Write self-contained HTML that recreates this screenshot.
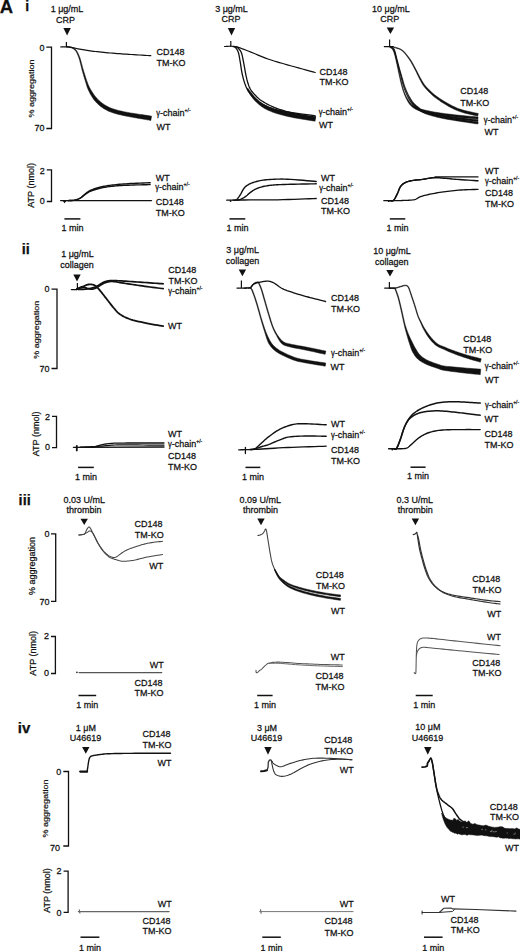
<!DOCTYPE html>
<html><head><meta charset="utf-8"><style>
html,body{margin:0;padding:0;background:#fff;width:520px;height:951px;overflow:hidden}
svg{display:block;font-family:"Liberation Sans", sans-serif;font-size:9px}
text{stroke:#111;stroke-width:0.25px;paint-order:stroke}
</style></head><body>
<svg width="520" height="951" viewBox="0 0 520 951">
<text transform="translate(-0.2,12.9) scale(1,1)" font-weight="bold" font-size="18.5" fill="#111">A</text>
<text transform="translate(25.2,11.2) scale(1,1)" font-weight="bold" font-size="14" fill="#111">i</text>
<text transform="translate(21.7,254.2) scale(1,1)" font-weight="bold" font-size="14.5" fill="#111">ii</text>
<text transform="translate(18.6,504.6) scale(1,1)" font-weight="bold" font-size="14.5" fill="#111">iii</text>
<text transform="translate(17.8,732.6) scale(1,1)" font-weight="bold" font-size="15" fill="#111">iv</text>
<text transform="translate(67,12) scale(1,1.1)" text-anchor="middle" fill="#111">1 μg/mL</text>
<text transform="translate(65.5,22.6) scale(1,1.1)" text-anchor="middle" fill="#111">CRP</text>
<path d="M63.4,28 L70.8,28 L67.1,35.5Z" fill="#111"/>
<path d="M46.3,47.2 L51.5,47.2 L51.5,128.5 L46.3,128.5" fill="none" stroke="#111" stroke-width="1.3"/>
<text transform="translate(44.6,50.8) scale(1,1.1)" text-anchor="end" fill="#111">0</text>
<text transform="translate(44.6,131.2) scale(1,1.1)" text-anchor="end" fill="#111">70</text>
<text transform="translate(34,88.5) rotate(-90) scale(1,0.8)" text-anchor="middle" fill="#111" font-size="9">% aggregation</text>
<line x1="66.4" y1="42" x2="66.4" y2="47" stroke="#111" stroke-width="1.2"/>
<path d="M60.8,46.9 L61.25,46.9 L61.85,46.89 L62.56,46.88 L63.36,46.87 L64.19,46.86 L65.01,46.86 L65.8,46.88 L66.5,46.9 L67.09,46.93 L67.59,46.95 L68.04,46.97 L68.49,47.01 L68.98,47.06 L69.57,47.14 L70.29,47.25 L71.2,47.4 L72.3,47.6 L73.57,47.86 L74.96,48.15 L76.45,48.47 L78,48.8 L79.58,49.12 L81.16,49.42 L82.7,49.7 L84.2,49.95 L85.68,50.19 L87.17,50.42 L88.69,50.64 L90.25,50.85 L91.87,51.07 L93.58,51.28 L95.4,51.5 L97.33,51.72 L99.37,51.94 L101.5,52.16 L103.69,52.38 L105.92,52.6 L108.18,52.81 L110.45,53.01 L112.7,53.2 L114.95,53.38 L117.21,53.56 L119.5,53.72 L121.81,53.88 L124.13,54.04 L126.47,54.19 L128.83,54.35 L131.2,54.5 L133.73,54.66 L136.48,54.84 L139.33,55.01 L142.16,55.18 L144.84,55.34 L147.25,55.49 L149.28,55.61 L150.8,55.7" fill="none" stroke="#111" stroke-width="1.2" stroke-linejoin="round" stroke-linecap="round"/>
<path d="M66.48,47.3 L66.85,47.32 L67.34,47.33 L67.91,47.34 L68.54,47.36 L69.2,47.41 L69.86,47.48 L70.49,47.6 L71.07,47.78 L71.63,48 L72.22,48.26 L72.79,48.54 L73.36,48.86 L73.92,49.23 L74.45,49.65 L74.97,50.13 L75.45,50.68 L75.91,51.32 L76.36,52.06 L76.79,52.86 L77.21,53.73 L77.62,54.65 L78,55.58 L78.38,56.53 L78.73,57.47 L79.07,58.44 L79.39,59.47 L79.69,60.54 L79.98,61.63 L80.25,62.7 L80.51,63.73 L80.75,64.68 L80.97,65.54 L81.15,66.23 L81.27,66.75 L81.36,67.17 L81.45,67.57 L81.54,68 L81.68,68.54 L81.86,69.24 L82.12,70.17 L82.46,71.38 L82.87,72.82 L83.34,74.44 L83.84,76.15 L84.35,77.89 L84.86,79.58 L85.35,81.16 L85.79,82.54 L86.15,83.74 L86.47,84.81 L86.77,85.8 L87.06,86.73 L87.38,87.64 L87.72,88.56 L88.12,89.52 L88.58,90.53 L89.11,91.62 L89.69,92.75 L90.31,93.9 L90.96,95.07 L91.65,96.22 L92.35,97.35 L93.06,98.44 L93.78,99.46 L94.52,100.4 L95.27,101.3 L96.03,102.15 L96.81,102.97 L97.6,103.76 L98.42,104.52 L99.26,105.26 L100.13,105.98 L101.03,106.68 L101.96,107.35 L102.91,108 L103.88,108.63 L104.88,109.23 L105.9,109.8 L106.95,110.35 L108.03,110.88 L109.15,111.38 L110.28,111.84 L111.44,112.27 L112.62,112.68 L113.81,113.06 L115.02,113.43 L116.25,113.79 L117.51,114.14 L118.81,114.48 L120.16,114.81 L121.53,115.12 L122.91,115.42 L124.3,115.7 L125.7,115.98 L127.08,116.25 L128.44,116.52 L129.8,116.78 L131.15,117.03 L132.49,117.27 L133.83,117.5 L135.17,117.73 L136.52,117.95 L137.89,118.19 L139.27,118.42 L140.76,118.69 L142.38,118.97 L144.06,119.27 L145.73,119.56 L147.32,119.84 L148.75,120.09 L149.95,120.31 L150.84,120.47 L151.56,116.13 L150.65,116 L149.45,115.82 L148.01,115.61 L146.42,115.37 L144.74,115.11 L143.05,114.85 L141.43,114.6 L139.93,114.38 L138.54,114.16 L137.16,113.95 L135.81,113.75 L134.47,113.55 L133.14,113.35 L131.82,113.14 L130.49,112.92 L129.16,112.68 L127.8,112.43 L126.43,112.18 L125.06,111.91 L123.69,111.65 L122.34,111.37 L121.02,111.08 L119.73,110.78 L118.49,110.46 L117.27,110.14 L116.08,109.8 L114.92,109.46 L113.78,109.11 L112.68,108.75 L111.62,108.36 L110.58,107.95 L109.57,107.52 L108.58,107.06 L107.61,106.58 L106.67,106.07 L105.75,105.55 L104.85,105 L103.97,104.43 L103.11,103.83 L102.27,103.22 L101.44,102.59 L100.65,101.95 L99.87,101.29 L99.12,100.61 L98.38,99.9 L97.65,99.16 L96.93,98.37 L96.22,97.54 L95.48,96.66 L94.73,95.7 L93.98,94.68 L93.25,93.63 L92.54,92.56 L91.85,91.5 L91.21,90.46 L90.62,89.47 L90.09,88.55 L89.64,87.69 L89.22,86.87 L88.84,86.04 L88.46,85.18 L88.07,84.25 L87.66,83.22 L87.21,82.06 L86.74,80.7 L86.22,79.15 L85.67,77.48 L85.13,75.76 L84.59,74.06 L84.09,72.46 L83.65,71.02 L83.28,69.83 L83,68.92 L82.81,68.24 L82.67,67.72 L82.57,67.31 L82.47,66.91 L82.36,66.48 L82.22,65.95 L82.03,65.26 L81.8,64.41 L81.55,63.46 L81.28,62.43 L80.99,61.36 L80.69,60.26 L80.37,59.17 L80.03,58.12 L79.67,57.13 L79.3,56.17 L78.91,55.21 L78.5,54.26 L78.07,53.33 L77.63,52.43 L77.16,51.59 L76.67,50.81 L76.15,50.12 L75.6,49.51 L75.02,48.98 L74.42,48.53 L73.8,48.14 L73.18,47.8 L72.56,47.51 L71.94,47.25 L71.33,47.02 L70.68,46.83 L69.98,46.69 L69.27,46.61 L68.58,46.56 L67.93,46.54 L67.35,46.53 L66.88,46.52 L66.52,46.5Z" fill="#111" stroke="#111" stroke-width="0.5" stroke-linejoin="round"/>
<text transform="translate(156.6,54.6) scale(1,1.1)" fill="#111">CD148</text>
<text transform="translate(156.6,65.7) scale(1,1.1)" fill="#111">TM-KO</text>
<text transform="translate(156.3,115.7) scale(1,1.1)" fill="#111"><tspan font-size="7.6">γ</tspan>-chain<tspan font-size="5" dy="-3.6">+/-</tspan></text>
<text transform="translate(156.4,129.6) scale(1,1.1)" fill="#111">WT</text>
<path d="M46.8,169.8 L51.5,169.8 L51.5,201.5 L46.8,201.5" fill="none" stroke="#111" stroke-width="1.3"/>
<text transform="translate(44.8,173.5) scale(1,1.1)" text-anchor="end" fill="#111">2</text>
<text transform="translate(44.8,203.5) scale(1,1.1)" text-anchor="end" fill="#111">0</text>
<text transform="translate(34.3,185.4) rotate(-90) scale(1,1.0)" text-anchor="middle" fill="#111" font-size="9">ATP (nmol)</text>
<path d="M60.6,200.6 L151.5,200.6" fill="none" stroke="#111" stroke-width="1.3" stroke-linejoin="round" stroke-linecap="round"/>
<path d="M62.8,200.9 L66.4,200.9 L64.6,203.2Z" fill="#111"/>
<path d="M68,200.6 L68.48,200.58 L69.12,200.57 L69.89,200.55 L70.74,200.53 L71.63,200.49 L72.53,200.43 L73.4,200.33 L74.2,200.2 L74.95,200.03 L75.7,199.84 L76.45,199.62 L77.19,199.37 L77.92,199.09 L78.63,198.79 L79.33,198.46 L80,198.1 L80.65,197.7 L81.27,197.24 L81.87,196.75 L82.46,196.23 L83.04,195.7 L83.62,195.18 L84.21,194.68 L84.8,194.2 L85.39,193.74 L85.98,193.29 L86.56,192.84 L87.14,192.4 L87.73,191.97 L88.33,191.56 L88.95,191.17 L89.6,190.8 L90.26,190.46 L90.94,190.14 L91.62,189.84 L92.33,189.56 L93.05,189.29 L93.8,189.03 L94.58,188.77 L95.4,188.5 L96.25,188.23 L97.12,187.97 L98.03,187.71 L98.96,187.45 L99.92,187.2 L100.91,186.96 L101.94,186.72 L103,186.5 L104.07,186.29 L105.15,186.09 L106.24,185.89 L107.37,185.71 L108.56,185.53 L109.83,185.35 L111.21,185.17 L112.7,185 L114.3,184.83 L115.97,184.65 L117.72,184.48 L119.57,184.32 L121.51,184.16 L123.56,184 L125.72,183.85 L128,183.7 L130.6,183.55 L133.59,183.41 L136.8,183.26 L140.06,183.12 L143.2,182.99 L146.05,182.87 L148.44,182.78 L150.2,182.7" fill="none" stroke="#111" stroke-width="1.4" stroke-linejoin="round" stroke-linecap="round"/>
<path d="M68,200.6 L68.48,200.58 L69.12,200.56 L69.89,200.55 L70.74,200.52 L71.63,200.48 L72.53,200.41 L73.4,200.32 L74.2,200.2 L74.95,200.05 L75.7,199.87 L76.45,199.67 L77.19,199.44 L77.92,199.2 L78.63,198.92 L79.33,198.62 L80,198.3 L80.65,197.94 L81.27,197.53 L81.87,197.09 L82.46,196.63 L83.04,196.16 L83.62,195.69 L84.21,195.23 L84.8,194.8 L85.39,194.38 L85.98,193.95 L86.56,193.53 L87.14,193.11 L87.73,192.71 L88.33,192.32 L88.95,191.95 L89.6,191.6 L90.26,191.28 L90.94,190.99 L91.62,190.72 L92.33,190.47 L93.05,190.22 L93.8,189.99 L94.58,189.75 L95.4,189.5 L96.25,189.25 L97.12,189 L98.03,188.75 L98.96,188.51 L99.92,188.27 L100.91,188.04 L101.94,187.81 L103,187.6 L104.07,187.4 L105.15,187.21 L106.24,187.02 L107.37,186.84 L108.56,186.67 L109.83,186.51 L111.21,186.35 L112.7,186.2 L114.3,186.05 L115.97,185.91 L117.72,185.78 L119.57,185.65 L121.51,185.53 L123.56,185.41 L125.72,185.3 L128,185.2 L130.6,185.1 L133.59,185.01 L136.8,184.92 L140.06,184.84 L143.2,184.76 L146.05,184.7 L148.44,184.64 L150.2,184.6" fill="none" stroke="#111" stroke-width="1.4" stroke-linejoin="round" stroke-linecap="round"/>
<text transform="translate(155.8,180.9) scale(1,1.1)" fill="#111">WT</text>
<text transform="translate(155.3,189.8) scale(1,1.1)" fill="#111"><tspan font-size="7.6">γ</tspan>-chain<tspan font-size="5" dy="-3.6">+/-</tspan></text>
<text transform="translate(155.7,204.9) scale(1,1.1)" fill="#111">CD148</text>
<text transform="translate(155.7,215.5) scale(1,1.1)" fill="#111">TM-KO</text>
<line x1="64.4" y1="218.9" x2="80.4" y2="218.9" stroke="#111" stroke-width="1.5"/>
<text transform="translate(72.4,230.8) scale(1,1.1)" text-anchor="middle" fill="#111">1 min</text>
<text transform="translate(231.5,12) scale(1,1.1)" text-anchor="middle" fill="#111">3 μg/mL</text>
<text transform="translate(231,22.3) scale(1,1.1)" text-anchor="middle" fill="#111">CRP</text>
<path d="M227.8,28 L235.2,28 L231.5,35.5Z" fill="#111"/>
<line x1="230.8" y1="41" x2="230.8" y2="46.8" stroke="#111" stroke-width="1.2"/>
<path d="M224.5,46.5 L225.32,46.48 L226.4,46.41 L227.68,46.33 L229.11,46.26 L230.65,46.22 L232.24,46.25 L233.84,46.37 L235.4,46.6 L236.92,46.95 L238.44,47.38 L239.99,47.89 L241.58,48.47 L243.24,49.12 L244.98,49.81 L246.83,50.54 L248.8,51.3 L250.92,52.13 L253.19,53.06 L255.57,54.05 L258.03,55.08 L260.54,56.12 L263.06,57.14 L265.56,58.11 L268,59 L270.35,59.8 L272.62,60.54 L274.85,61.23 L277.11,61.9 L279.43,62.57 L281.87,63.26 L284.48,64 L287.3,64.8 L290.57,65.72 L294.32,66.77 L298.36,67.89 L302.46,69.01 L306.4,70.09 L309.99,71.07 L312.99,71.89 L315.2,72.5" fill="none" stroke="#111" stroke-width="1.2" stroke-linejoin="round" stroke-linecap="round"/>
<path d="M233,46.6 L233.18,46.64 L233.42,46.67 L233.7,46.7 L234.02,46.75 L234.36,46.84 L234.71,46.98 L235.06,47.19 L235.4,47.5 L235.75,47.88 L236.11,48.31 L236.49,48.8 L236.88,49.36 L237.26,49.98 L237.63,50.67 L237.98,51.44 L238.3,52.3 L238.59,53.26 L238.85,54.32 L239.09,55.46 L239.31,56.67 L239.53,57.94 L239.75,59.25 L239.97,60.57 L240.2,61.9 L240.43,63.26 L240.65,64.69 L240.87,66.15 L241.09,67.64 L241.31,69.14 L241.55,70.63 L241.81,72.09 L242.1,73.5 L242.41,74.88 L242.73,76.27 L243.07,77.64 L243.43,78.99 L243.8,80.32 L244.19,81.6 L244.59,82.83 L245,84 L245.42,85.1 L245.84,86.14 L246.27,87.13 L246.72,88.08 L247.19,89 L247.69,89.9 L248.22,90.8 L248.8,91.7 L249.42,92.6 L250.06,93.49 L250.75,94.36 L251.46,95.22 L252.2,96.07 L252.97,96.9 L253.77,97.71 L254.6,98.5 L255.45,99.27 L256.3,100.02 L257.18,100.76 L258.09,101.48 L259.05,102.18 L260.06,102.86 L261.14,103.54 L262.3,104.2 L263.54,104.86 L264.86,105.51 L266.25,106.15 L267.69,106.78 L269.17,107.38 L270.7,107.95 L272.24,108.5 L273.8,109 L275.39,109.46 L277.03,109.88 L278.72,110.27 L280.43,110.63 L282.15,110.97 L283.88,111.29 L285.6,111.6 L287.3,111.9 L288.98,112.18 L290.65,112.44 L292.32,112.68 L293.99,112.91 L295.67,113.12 L297.36,113.34 L299.07,113.56 L300.8,113.8 L302.66,114.06 L304.67,114.34 L306.77,114.63 L308.84,114.92 L310.82,115.19 L312.59,115.44 L314.08,115.65 L315.2,115.8" fill="none" stroke="#111" stroke-width="1.3" stroke-linejoin="round" stroke-linecap="round"/>
<path d="M235,46.6 L235.17,46.64 L235.38,46.67 L235.62,46.7 L235.91,46.75 L236.22,46.84 L236.56,46.98 L236.92,47.19 L237.3,47.5 L237.72,47.88 L238.2,48.31 L238.72,48.8 L239.25,49.36 L239.78,49.98 L240.3,50.67 L240.78,51.44 L241.2,52.3 L241.57,53.26 L241.89,54.32 L242.19,55.46 L242.46,56.67 L242.72,57.94 L242.98,59.25 L243.23,60.57 L243.5,61.9 L243.77,63.27 L244.03,64.71 L244.29,66.2 L244.55,67.71 L244.81,69.22 L245.07,70.7 L245.33,72.14 L245.6,73.5 L245.87,74.81 L246.15,76.09 L246.42,77.33 L246.7,78.55 L246.98,79.73 L247.28,80.86 L247.58,81.96 L247.9,83 L248.21,83.98 L248.52,84.89 L248.82,85.75 L249.14,86.57 L249.48,87.38 L249.86,88.17 L250.3,88.97 L250.8,89.8 L251.38,90.66 L252.03,91.53 L252.74,92.42 L253.49,93.29 L254.25,94.15 L255.02,94.98 L255.78,95.77 L256.5,96.5 L257.18,97.17 L257.83,97.78 L258.47,98.35 L259.11,98.89 L259.76,99.41 L260.45,99.93 L261.19,100.45 L262,101 L262.87,101.57 L263.78,102.14 L264.73,102.71 L265.72,103.28 L266.74,103.85 L267.8,104.41 L268.89,104.96 L270,105.5 L271.14,106.03 L272.31,106.55 L273.52,107.06 L274.75,107.56 L276.02,108.06 L277.31,108.55 L278.64,109.03 L280,109.5 L281.41,109.97 L282.88,110.43 L284.4,110.89 L285.94,111.34 L287.49,111.78 L289.02,112.21 L290.53,112.61 L292,113 L293.41,113.36 L294.79,113.7 L296.15,114.01 L297.49,114.31 L298.83,114.61 L300.19,114.9 L301.57,115.19 L303,115.5 L304.55,115.83 L306.25,116.18 L308.02,116.55 L309.79,116.91 L311.47,117.25 L312.98,117.55 L314.25,117.81 L315.2,118" fill="none" stroke="#111" stroke-width="1.3" stroke-linejoin="round" stroke-linecap="round"/>
<path d="M247.05,88.73 L247.11,88.93 L247.16,89.16 L247.24,89.45 L247.36,89.81 L247.53,90.23 L247.77,90.73 L248.09,91.32 L248.51,91.99 L249.02,92.79 L249.63,93.73 L250.33,94.77 L251.09,95.88 L251.91,97.03 L252.76,98.16 L253.63,99.26 L254.5,100.27 L255.39,101.2 L256.31,102.11 L257.25,102.99 L258.22,103.84 L259.2,104.66 L260.18,105.44 L261.17,106.19 L262.15,106.9 L263.14,107.55 L264.12,108.15 L265.1,108.71 L266.08,109.23 L267.07,109.73 L268.07,110.2 L269.09,110.66 L270.15,111.12 L271.23,111.57 L272.32,112 L273.43,112.41 L274.56,112.8 L275.72,113.19 L276.93,113.57 L278.18,113.95 L279.51,114.33 L280.91,114.72 L282.4,115.11 L283.94,115.5 L285.52,115.89 L287.13,116.27 L288.74,116.63 L290.34,116.98 L291.91,117.31 L293.48,117.63 L295.06,117.93 L296.64,118.21 L298.21,118.48 L299.77,118.74 L301.31,118.99 L302.81,119.24 L304.28,119.48 L305.77,119.73 L307.34,119.99 L308.92,120.24 L310.46,120.48 L311.89,120.7 L313.18,120.91 L314.25,121.08 L315.07,121.23 L315.73,116.37 L314.9,116.29 L313.81,116.18 L312.52,116.03 L311.08,115.87 L309.55,115.69 L307.98,115.51 L306.42,115.31 L304.92,115.12 L303.46,114.92 L301.95,114.72 L300.42,114.5 L298.87,114.28 L297.32,114.05 L295.76,113.81 L294.22,113.56 L292.69,113.29 L291.15,113 L289.57,112.69 L287.98,112.37 L286.39,112.04 L284.83,111.7 L283.32,111.35 L281.87,111.01 L280.49,110.67 L279.2,110.33 L277.97,110 L276.8,109.67 L275.68,109.33 L274.6,108.99 L273.54,108.64 L272.5,108.27 L271.45,107.88 L270.42,107.48 L269.42,107.08 L268.46,106.68 L267.52,106.27 L266.6,105.83 L265.69,105.36 L264.77,104.86 L263.85,104.3 L262.89,103.7 L261.92,103.06 L260.95,102.38 L259.98,101.66 L259.02,100.91 L258.09,100.14 L257.17,99.34 L256.3,98.53 L255.42,97.66 L254.53,96.7 L253.64,95.67 L252.77,94.62 L251.94,93.59 L251.17,92.61 L250.48,91.74 L249.89,91.01 L249.43,90.42 L249.07,89.94 L248.79,89.54 L248.57,89.21 L248.39,88.93 L248.24,88.69 L248.09,88.47 L247.95,88.27Z" fill="#111" stroke="#111" stroke-width="0.5" stroke-linejoin="round"/>
<text transform="translate(319.6,74.6) scale(1,1.1)" fill="#111">CD148</text>
<text transform="translate(319.6,85.4) scale(1,1.1)" fill="#111">TM-KO</text>
<text transform="translate(318.7,114.5) scale(1,1.1)" fill="#111"><tspan font-size="7.6">γ</tspan>-chain<tspan font-size="5" dy="-3.6">+/-</tspan></text>
<text transform="translate(319.1,127.5) scale(1,1.1)" fill="#111">WT</text>
<path d="M226.7,200.2 L227.22,200.18 L227.68,200.16 L228.2,200.14 L228.91,200.11 L229.95,200.08 L231.44,200.05 L233.51,200.03 L236.3,200 L239.97,199.98 L244.48,199.98 L249.62,199.97 L255.19,199.97 L260.99,199.96 L266.81,199.93 L272.45,199.88 L277.7,199.8 L282.91,199.68 L288.43,199.52 L294.04,199.34 L299.54,199.14 L304.71,198.94 L309.35,198.76 L313.25,198.61 L316.2,198.5" fill="none" stroke="#111" stroke-width="1.3" stroke-linejoin="round" stroke-linecap="round"/>
<circle cx="230.6" cy="201" r="0.9" fill="#111"/>
<path d="M233,200.1 L233.25,200.11 L233.58,200.15 L233.97,200.21 L234.41,200.25 L234.87,200.26 L235.36,200.2 L235.84,200.05 L236.3,199.8 L236.76,199.43 L237.24,198.96 L237.72,198.41 L238.22,197.8 L238.72,197.14 L239.22,196.44 L239.71,195.72 L240.2,195 L240.67,194.23 L241.13,193.39 L241.59,192.5 L242.04,191.59 L242.51,190.69 L242.98,189.82 L243.48,189.02 L244,188.3 L244.53,187.67 L245.06,187.1 L245.6,186.59 L246.16,186.11 L246.74,185.67 L247.37,185.24 L248.05,184.82 L248.8,184.4 L249.6,183.98 L250.43,183.58 L251.31,183.2 L252.23,182.82 L253.21,182.47 L254.24,182.13 L255.34,181.81 L256.5,181.5 L257.7,181.2 L258.92,180.92 L260.19,180.65 L261.53,180.39 L262.95,180.16 L264.49,179.95 L266.16,179.76 L268,179.6 L269.97,179.46 L272.05,179.33 L274.24,179.22 L276.56,179.14 L279.02,179.09 L281.62,179.07 L284.37,179.11 L287.3,179.2 L290.65,179.37 L294.53,179.64 L298.7,179.97 L302.96,180.32 L307.06,180.69 L310.78,181.02 L313.9,181.3 L316.2,181.5" fill="none" stroke="#111" stroke-width="1.4" stroke-linejoin="round" stroke-linecap="round"/>
<path d="M236,200.1 L236.23,200.09 L236.51,200.11 L236.85,200.12 L237.24,200.13 L237.67,200.12 L238.14,200.06 L238.65,199.96 L239.2,199.8 L239.8,199.57 L240.47,199.3 L241.18,198.99 L241.94,198.63 L242.71,198.24 L243.49,197.82 L244.26,197.37 L245,196.9 L245.73,196.38 L246.45,195.8 L247.18,195.18 L247.91,194.53 L248.63,193.88 L249.36,193.25 L250.08,192.65 L250.8,192.1 L251.5,191.6 L252.19,191.13 L252.86,190.68 L253.53,190.25 L254.22,189.84 L254.94,189.45 L255.69,189.07 L256.5,188.7 L257.35,188.34 L258.24,188 L259.16,187.68 L260.11,187.37 L261.09,187.08 L262.09,186.8 L263.13,186.54 L264.2,186.3 L265.28,186.08 L266.38,185.88 L267.49,185.7 L268.64,185.54 L269.83,185.39 L271.08,185.25 L272.4,185.12 L273.8,185 L275.2,184.89 L276.54,184.8 L277.9,184.72 L279.34,184.66 L280.94,184.59 L282.75,184.53 L284.85,184.47 L287.3,184.4 L290.37,184.32 L294.12,184.24 L298.28,184.15 L302.59,184.06 L306.8,183.98 L310.65,183.91 L313.87,183.85 L316.2,183.8" fill="none" stroke="#111" stroke-width="1.4" stroke-linejoin="round" stroke-linecap="round"/>
<text transform="translate(321,181.3) scale(1,1.1)" fill="#111">WT</text>
<text transform="translate(319.2,190.8) scale(1,1.1)" fill="#111"><tspan font-size="7.6">γ</tspan>-chain<tspan font-size="5" dy="-3.6">+/-</tspan></text>
<text transform="translate(321,203.5) scale(1,1.1)" fill="#111">CD148</text>
<text transform="translate(321,214) scale(1,1.1)" fill="#111">TM-KO</text>
<line x1="229.5" y1="218.9" x2="245.3" y2="218.9" stroke="#111" stroke-width="1.5"/>
<text transform="translate(237.4,230.8) scale(1,1.1)" text-anchor="middle" fill="#111">1 min</text>
<text transform="translate(390.8,12) scale(1,1.1)" text-anchor="middle" fill="#111">10 μg/mL</text>
<text transform="translate(389.8,21.7) scale(1,1.1)" text-anchor="middle" fill="#111">CRP</text>
<path d="M386.7,27.4 L394.1,27.4 L390.4,33.9Z" fill="#111"/>
<line x1="389.6" y1="39.5" x2="389.6" y2="47" stroke="#111" stroke-width="1.2"/>
<path d="M384.3,46.6 L393,46.6" fill="none" stroke="#111" stroke-width="1.2" stroke-linejoin="round" stroke-linecap="round"/>
<path d="M392.61,47 L392.53,46.91 L392.65,46.42 L392.47,46.6 L392.59,47.03 L392.72,47.1 L392.89,47.18 L393.16,47.28 L393.59,47.43 L394.21,47.63 L395,47.85 L395.92,48.11 L396.91,48.39 L397.93,48.71 L398.93,49.05 L399.84,49.42 L400.63,49.81 L401.3,50.22 L401.91,50.66 L402.46,51.11 L402.99,51.6 L403.51,52.13 L404.04,52.71 L404.59,53.36 L405.2,54.06 L405.84,54.83 L406.5,55.64 L407.17,56.51 L407.86,57.43 L408.55,58.4 L409.24,59.41 L409.94,60.45 L410.62,61.54 L411.3,62.69 L412.01,63.94 L412.72,65.25 L413.42,66.6 L414.12,67.95 L414.8,69.27 L415.45,70.54 L416.06,71.73 L416.61,72.83 L417.12,73.89 L417.6,74.9 L418.07,75.88 L418.53,76.85 L418.99,77.8 L419.47,78.74 L419.98,79.69 L420.47,80.62 L420.95,81.52 L421.43,82.4 L421.92,83.29 L422.45,84.17 L423.03,85.08 L423.68,86.01 L424.42,86.98 L425.25,87.98 L426.16,89.03 L427.14,90.1 L428.16,91.19 L429.22,92.26 L430.29,93.31 L431.36,94.33 L432.41,95.28 L433.44,96.17 L434.47,97.01 L435.5,97.82 L436.54,98.6 L437.6,99.36 L438.68,100.11 L439.8,100.87 L440.96,101.64 L442.17,102.43 L443.44,103.25 L444.75,104.06 L446.09,104.87 L447.44,105.67 L448.81,106.45 L450.17,107.19 L451.51,107.88 L452.8,108.53 L454.06,109.14 L455.3,109.72 L456.55,110.27 L457.85,110.8 L459.22,111.32 L460.67,111.84 L462.26,112.35 L464.09,112.89 L466.18,113.44 L468.42,113.98 L470.69,114.51 L472.87,115.01 L474.84,115.45 L476.49,115.83 L477.71,116.12 L478.29,113.48 L477.06,113.23 L475.4,112.89 L473.42,112.48 L471.24,112.02 L468.98,111.54 L466.77,111.03 L464.71,110.53 L462.94,110.05 L461.42,109.58 L460.01,109.11 L458.69,108.63 L457.43,108.14 L456.22,107.63 L455,107.1 L453.77,106.53 L452.49,105.92 L451.17,105.26 L449.84,104.56 L448.49,103.82 L447.15,103.06 L445.82,102.29 L444.52,101.5 L443.26,100.72 L442.04,99.96 L440.88,99.22 L439.77,98.49 L438.69,97.77 L437.65,97.05 L436.63,96.32 L435.61,95.56 L434.61,94.76 L433.59,93.92 L432.54,93.02 L431.47,92.06 L430.4,91.05 L429.34,90.03 L428.31,88.99 L427.32,87.97 L426.41,86.97 L425.58,86.02 L424.85,85.13 L424.2,84.27 L423.62,83.42 L423.08,82.59 L422.57,81.75 L422.06,80.9 L421.56,80.02 L421.02,79.11 L420.5,78.19 L420.01,77.27 L419.53,76.35 L419.06,75.4 L418.57,74.43 L418.06,73.42 L417.53,72.37 L416.94,71.27 L416.32,70.09 L415.66,68.82 L414.97,67.5 L414.26,66.15 L413.54,64.81 L412.81,63.49 L412.09,62.23 L411.38,61.06 L410.68,59.97 L409.97,58.91 L409.25,57.9 L408.54,56.93 L407.84,56 L407.14,55.13 L406.46,54.31 L405.8,53.54 L405.19,52.84 L404.61,52.2 L404.06,51.61 L403.51,51.06 L402.94,50.55 L402.34,50.08 L401.69,49.63 L400.97,49.19 L400.13,48.78 L399.17,48.39 L398.15,48.04 L397.11,47.72 L396.11,47.43 L395.19,47.18 L394.41,46.96 L393.81,46.77 L393.41,46.62 L393.15,46.52 L393.02,46.47 L393.02,46.47 L393.12,46.86 L392.99,47.03 L393.12,46.53 L392.99,46.4Z" fill="#111" stroke="#111" stroke-width="0.5" stroke-linejoin="round"/>
<path d="M389.3,46.98 L389.58,47.18 L389.95,47.42 L390.38,47.69 L390.85,47.99 L391.33,48.35 L391.8,48.74 L392.23,49.19 L392.61,49.69 L392.94,50.26 L393.26,50.89 L393.55,51.57 L393.84,52.31 L394.12,53.11 L394.4,53.97 L394.68,54.9 L394.96,55.89 L395.26,56.98 L395.55,58.17 L395.84,59.45 L396.13,60.77 L396.42,62.13 L396.71,63.48 L396.99,64.8 L397.26,66.07 L397.52,67.3 L397.78,68.51 L398.03,69.72 L398.28,70.91 L398.52,72.1 L398.76,73.27 L399.01,74.43 L399.26,75.57 L399.51,76.71 L399.75,77.83 L400,78.94 L400.24,80.03 L400.49,81.12 L400.74,82.19 L401,83.25 L401.26,84.29 L401.53,85.31 L401.79,86.32 L402.06,87.31 L402.34,88.3 L402.62,89.27 L402.92,90.23 L403.24,91.18 L403.57,92.12 L403.91,93.06 L404.26,94.01 L404.63,94.94 L405.01,95.86 L405.41,96.77 L405.82,97.65 L406.23,98.51 L406.66,99.34 L407.08,100.15 L407.51,100.93 L407.94,101.7 L408.39,102.45 L408.86,103.18 L409.36,103.88 L409.89,104.57 L410.46,105.22 L411.06,105.84 L411.67,106.43 L412.3,106.99 L412.96,107.53 L413.67,108.04 L414.42,108.53 L415.23,109.01 L416.1,109.46 L417,109.87 L417.92,110.25 L418.87,110.6 L419.87,110.93 L420.94,111.24 L422.1,111.56 L423.36,111.88 L424.77,112.22 L426.29,112.57 L427.91,112.92 L429.63,113.27 L431.46,113.63 L433.39,113.99 L435.43,114.34 L437.58,114.7 L439.85,115.04 L442.32,115.38 L445.02,115.73 L447.88,116.08 L450.82,116.43 L453.77,116.77 L456.64,117.08 L459.38,117.38 L461.89,117.64 L464.29,117.89 L466.7,118.11 L469.05,118.32 L471.29,118.51 L473.35,118.68 L475.18,118.82 L476.72,118.95 L477.91,119.05 L478.09,116.95 L476.89,116.85 L475.35,116.73 L473.52,116.58 L471.46,116.42 L469.23,116.23 L466.89,116.02 L464.5,115.8 L462.11,115.56 L459.6,115.29 L456.87,115 L454,114.68 L451.06,114.34 L448.13,114 L445.28,113.65 L442.6,113.3 L440.15,112.96 L437.91,112.62 L435.78,112.27 L433.76,111.92 L431.85,111.57 L430.05,111.21 L428.35,110.86 L426.74,110.52 L425.23,110.18 L423.85,109.87 L422.6,109.57 L421.47,109.29 L420.44,109.01 L419.49,108.72 L418.6,108.42 L417.75,108.1 L416.9,107.74 L416.08,107.37 L415.33,106.98 L414.62,106.57 L413.96,106.15 L413.33,105.7 L412.72,105.22 L412.12,104.71 L411.54,104.18 L410.97,103.61 L410.43,103.03 L409.92,102.4 L409.42,101.75 L408.94,101.07 L408.47,100.36 L408,99.62 L407.54,98.86 L407.09,98.06 L406.64,97.24 L406.21,96.39 L405.79,95.51 L405.38,94.62 L404.98,93.71 L404.6,92.8 L404.23,91.88 L403.9,90.95 L403.59,90.01 L403.29,89.06 L403.01,88.1 L402.74,87.13 L402.47,86.14 L402.21,85.13 L401.94,84.11 L401.68,83.08 L401.42,82.03 L401.17,80.96 L400.92,79.88 L400.68,78.78 L400.43,77.68 L400.19,76.56 L399.94,75.43 L399.69,74.28 L399.45,73.13 L399.21,71.96 L398.96,70.77 L398.71,69.58 L398.46,68.37 L398.21,67.15 L397.94,65.93 L397.67,64.66 L397.39,63.34 L397.11,61.98 L396.82,60.63 L396.52,59.29 L396.23,58.01 L395.93,56.81 L395.64,55.71 L395.35,54.7 L395.06,53.76 L394.78,52.89 L394.5,52.07 L394.2,51.3 L393.89,50.59 L393.56,49.93 L393.19,49.31 L392.77,48.74 L392.28,48.23 L391.77,47.8 L391.25,47.42 L390.76,47.1 L390.32,46.82 L389.96,46.6 L389.7,46.42Z" fill="#111" stroke="#111" stroke-width="0.5" stroke-linejoin="round"/>
<path d="M390.16,46.91 L390.45,47.1 L390.84,47.3 L391.28,47.53 L391.76,47.8 L392.25,48.13 L392.74,48.53 L393.19,49.02 L393.58,49.62 L393.94,50.36 L394.27,51.24 L394.6,52.22 L394.91,53.28 L395.21,54.39 L395.51,55.54 L395.81,56.69 L396.11,57.81 L396.41,58.94 L396.71,60.09 L397,61.26 L397.29,62.46 L397.58,63.66 L397.87,64.86 L398.16,66.07 L398.46,67.26 L398.76,68.45 L399.06,69.66 L399.36,70.87 L399.67,72.09 L399.97,73.29 L400.27,74.47 L400.57,75.63 L400.86,76.76 L401.13,77.85 L401.39,78.91 L401.65,79.94 L401.9,80.96 L402.15,81.97 L402.42,82.98 L402.7,84 L403.01,85.02 L403.34,86.06 L403.67,87.11 L404.02,88.16 L404.38,89.2 L404.75,90.25 L405.14,91.28 L405.55,92.3 L405.97,93.3 L406.39,94.3 L406.83,95.3 L407.28,96.3 L407.76,97.28 L408.24,98.24 L408.74,99.18 L409.25,100.08 L409.77,100.95 L410.3,101.77 L410.84,102.55 L411.38,103.3 L411.94,104.03 L412.52,104.73 L413.12,105.41 L413.75,106.08 L414.41,106.73 L415.05,107.35 L415.67,107.96 L416.31,108.56 L416.99,109.14 L417.75,109.72 L418.6,110.29 L419.59,110.84 L420.72,111.38 L422,111.9 L423.39,112.4 L424.89,112.88 L426.48,113.35 L428.16,113.8 L429.91,114.25 L431.72,114.69 L433.6,115.13 L435.56,115.55 L437.63,115.96 L439.78,116.36 L442,116.75 L444.26,117.14 L446.56,117.52 L448.86,117.88 L451.16,118.24 L453.54,118.59 L456.08,118.95 L458.69,119.3 L461.29,119.64 L463.82,119.96 L466.19,120.26 L468.34,120.52 L470.19,120.74 L471.75,120.92 L473.11,121.06 L474.27,121.17 L475.26,121.25 L476.11,121.32 L476.82,121.36 L477.41,121.41 L477.92,121.45 L478.08,119.55 L477.55,119.51 L476.95,119.47 L476.24,119.42 L475.41,119.36 L474.44,119.28 L473.29,119.17 L471.96,119.03 L470.41,118.86 L468.57,118.63 L466.43,118.37 L464.06,118.08 L461.53,117.76 L458.94,117.42 L456.34,117.07 L453.82,116.71 L451.44,116.36 L449.16,116.01 L446.86,115.64 L444.58,115.27 L442.32,114.88 L440.12,114.49 L437.99,114.09 L435.94,113.69 L434,113.27 L432.14,112.87 L430.34,112.45 L428.61,112.04 L426.96,111.61 L425.4,111.18 L423.94,110.73 L422.6,110.28 L421.38,109.82 L420.32,109.36 L419.4,108.9 L418.61,108.43 L417.9,107.95 L417.25,107.45 L416.61,106.92 L415.97,106.36 L415.29,105.77 L414.62,105.18 L413.98,104.58 L413.37,103.96 L412.78,103.32 L412.2,102.65 L411.64,101.95 L411.08,101.22 L410.53,100.45 L409.98,99.64 L409.43,98.78 L408.9,97.88 L408.38,96.96 L407.87,96.01 L407.37,95.04 L406.89,94.07 L406.43,93.1 L406.01,92.11 L405.61,91.1 L405.22,90.07 L404.85,89.04 L404.49,88 L404.15,86.95 L403.81,85.91 L403.49,84.88 L403.18,83.86 L402.9,82.85 L402.64,81.85 L402.38,80.84 L402.13,79.83 L401.88,78.79 L401.62,77.73 L401.34,76.64 L401.05,75.51 L400.76,74.35 L400.46,73.17 L400.15,71.96 L399.85,70.75 L399.54,69.54 L399.24,68.33 L398.94,67.14 L398.65,65.95 L398.36,64.75 L398.07,63.54 L397.78,62.34 L397.49,61.14 L397.19,59.97 L396.89,58.81 L396.59,57.69 L396.29,56.56 L395.99,55.41 L395.69,54.26 L395.39,53.14 L395.07,52.07 L394.74,51.07 L394.4,50.16 L394.02,49.38 L393.58,48.72 L393.08,48.17 L392.55,47.73 L392.02,47.37 L391.52,47.09 L391.07,46.85 L390.7,46.66 L390.44,46.49Z" fill="#111" stroke="#111" stroke-width="0.5" stroke-linejoin="round"/>
<path d="M390.32,47 L390.63,47.18 L391.03,47.35 L391.48,47.54 L391.96,47.77 L392.45,48.07 L392.93,48.46 L393.38,48.98 L393.79,49.65 L394.15,50.55 L394.51,51.66 L394.85,52.94 L395.18,54.31 L395.51,55.74 L395.83,57.16 L396.14,58.53 L396.46,59.79 L396.77,60.95 L397.07,62.05 L397.37,63.13 L397.66,64.19 L397.95,65.24 L398.24,66.3 L398.55,67.38 L398.86,68.5 L399.2,69.66 L399.55,70.86 L399.91,72.08 L400.27,73.31 L400.63,74.53 L400.99,75.73 L401.34,76.89 L401.66,78 L401.97,79.05 L402.24,80.04 L402.5,81 L402.76,81.94 L403.03,82.88 L403.31,83.83 L403.62,84.8 L403.97,85.82 L404.35,86.87 L404.76,87.95 L405.18,89.06 L405.63,90.18 L406.09,91.29 L406.57,92.4 L407.07,93.49 L407.59,94.56 L408.1,95.61 L408.64,96.67 L409.19,97.72 L409.76,98.76 L410.35,99.78 L410.96,100.77 L411.57,101.71 L412.2,102.6 L412.83,103.45 L413.47,104.23 L414.11,104.98 L414.78,105.69 L415.45,106.38 L416.15,107.05 L416.87,107.71 L417.61,108.37 L418.31,109.01 L418.94,109.64 L419.59,110.27 L420.3,110.92 L421.11,111.57 L422.08,112.21 L423.25,112.85 L424.65,113.48 L426.31,114.1 L428.18,114.72 L430.23,115.34 L432.43,115.95 L434.72,116.55 L437.07,117.14 L439.43,117.7 L441.78,118.23 L444.18,118.72 L446.7,119.19 L449.28,119.64 L451.89,120.07 L454.5,120.49 L457.05,120.89 L459.51,121.27 L461.84,121.64 L464.14,122 L466.5,122.36 L468.84,122.72 L471.1,123.05 L473.2,123.36 L475.07,123.63 L476.64,123.86 L477.85,124.04 L478.15,121.96 L476.95,121.78 L475.37,121.55 L473.5,121.28 L471.4,120.97 L469.15,120.64 L466.81,120.29 L464.46,119.93 L462.16,119.56 L459.83,119.19 L457.37,118.81 L454.82,118.41 L452.23,118 L449.63,117.57 L447.07,117.12 L444.59,116.66 L442.22,116.17 L439.89,115.67 L437.54,115.14 L435.21,114.59 L432.94,114.02 L430.77,113.44 L428.76,112.86 L426.93,112.28 L425.35,111.72 L424.04,111.18 L422.98,110.65 L422.11,110.13 L421.36,109.59 L420.69,109.05 L420.04,108.47 L419.35,107.86 L418.59,107.23 L417.81,106.61 L417.06,106.01 L416.34,105.41 L415.65,104.8 L414.97,104.16 L414.31,103.49 L413.65,102.77 L413,102 L412.36,101.16 L411.73,100.26 L411.11,99.32 L410.5,98.34 L409.9,97.33 L409.32,96.3 L408.76,95.27 L408.21,94.24 L407.71,93.2 L407.21,92.12 L406.73,91.02 L406.27,89.91 L405.83,88.8 L405.41,87.71 L405.01,86.63 L404.63,85.58 L404.29,84.58 L403.98,83.62 L403.7,82.69 L403.44,81.76 L403.18,80.82 L402.92,79.86 L402.64,78.85 L402.34,77.8 L402.01,76.69 L401.66,75.53 L401.3,74.33 L400.94,73.11 L400.58,71.88 L400.22,70.66 L399.87,69.46 L399.54,68.3 L399.22,67.19 L398.92,66.11 L398.62,65.05 L398.33,64 L398.04,62.95 L397.75,61.87 L397.45,60.76 L397.14,59.61 L396.82,58.36 L396.51,57 L396.19,55.58 L395.87,54.15 L395.53,52.76 L395.18,51.47 L394.81,50.31 L394.41,49.35 L393.95,48.57 L393.42,47.96 L392.86,47.5 L392.3,47.16 L391.77,46.9 L391.3,46.71 L390.94,46.55 L390.68,46.4Z" fill="#111" stroke="#111" stroke-width="0.5" stroke-linejoin="round"/>
<text transform="translate(460.3,94.4) scale(1,1.1)" fill="#111">CD148</text>
<text transform="translate(460.3,105.6) scale(1,1.1)" fill="#111">TM-KO</text>
<text transform="translate(483.8,123.1) scale(1,1.1)" fill="#111"><tspan font-size="7.6">γ</tspan>-chain<tspan font-size="5" dy="-3.6">+/-</tspan></text>
<text transform="translate(484.4,135) scale(1,1.1)" fill="#111">WT</text>
<circle cx="388.7" cy="201.2" r="0.9" fill="#111"/>
<path d="M383.8,200.6 L384.54,200.6 L385.5,200.6 L386.65,200.61 L387.93,200.61 L389.3,200.61 L390.72,200.61 L392.14,200.61 L393.5,200.6 L394.86,200.59 L396.29,200.58 L397.76,200.57 L399.26,200.55 L400.75,200.53 L402.22,200.5 L403.64,200.46 L405,200.4 L406.32,200.34 L407.62,200.29 L408.91,200.24 L410.16,200.17 L411.36,200.08 L412.51,199.96 L413.59,199.8 L414.6,199.6 L415.48,199.34 L416.23,199.01 L416.89,198.65 L417.5,198.26 L418.11,197.85 L418.77,197.45 L419.52,197.06 L420.4,196.7 L421.39,196.37 L422.44,196.04 L423.55,195.72 L424.72,195.41 L425.95,195.11 L427.24,194.8 L428.59,194.5 L430,194.2 L431.47,193.9 L433.01,193.6 L434.61,193.31 L436.27,193.01 L437.99,192.72 L439.77,192.44 L441.6,192.17 L443.5,191.9 L445.48,191.63 L447.56,191.37 L449.71,191.1 L451.92,190.84 L454.15,190.6 L456.39,190.37 L458.62,190.17 L460.8,190 L463.07,189.86 L465.51,189.74 L468.01,189.65 L470.48,189.58 L472.81,189.52 L474.91,189.48 L476.67,189.44 L478,189.4" fill="none" stroke="#111" stroke-width="1.3" stroke-linejoin="round" stroke-linecap="round"/>
<path d="M390,200.6 L390.27,200.63 L390.62,200.71 L391.04,200.82 L391.51,200.91 L392.01,200.95 L392.52,200.9 L393.02,200.73 L393.5,200.4 L393.97,199.88 L394.45,199.2 L394.94,198.4 L395.44,197.51 L395.93,196.56 L396.41,195.61 L396.87,194.67 L397.3,193.8 L397.7,192.95 L398.07,192.06 L398.41,191.17 L398.75,190.28 L399.09,189.4 L399.43,188.57 L399.8,187.8 L400.2,187.1 L400.61,186.48 L401.02,185.92 L401.43,185.41 L401.86,184.94 L402.32,184.5 L402.82,184.09 L403.38,183.69 L404,183.3 L404.67,182.92 L405.38,182.56 L406.12,182.22 L406.92,181.9 L407.77,181.6 L408.7,181.32 L409.7,181.05 L410.8,180.8 L412.01,180.58 L413.34,180.38 L414.77,180.22 L416.26,180.06 L417.78,179.91 L419.31,179.76 L420.83,179.59 L422.3,179.4 L423.79,179.18 L425.35,178.93 L426.95,178.67 L428.52,178.4 L430.04,178.14 L431.46,177.9 L432.73,177.68 L433.8,177.5 L434.53,177.36 L434.88,177.24 L435.01,177.15 L435.07,177.08 L435.22,177.02 L435.61,176.98 L436.38,176.94 L437.7,176.9 L439.64,176.87 L442.08,176.86 L444.9,176.86 L447.97,176.86 L451.14,176.87 L454.3,176.89 L457.29,176.9 L460,176.9 L462.58,176.9 L465.22,176.9 L467.86,176.9 L470.39,176.9 L472.76,176.9 L474.87,176.9 L476.64,176.9 L478,176.9" fill="none" stroke="#111" stroke-width="1.4" stroke-linejoin="round" stroke-linecap="round"/>
<path d="M390,200.6 L390.27,200.63 L390.62,200.71 L391.04,200.82 L391.51,200.91 L392.01,200.95 L392.52,200.9 L393.02,200.73 L393.5,200.4 L393.97,199.88 L394.45,199.2 L394.94,198.4 L395.44,197.51 L395.93,196.56 L396.41,195.61 L396.87,194.67 L397.3,193.8 L397.7,192.95 L398.07,192.06 L398.41,191.17 L398.75,190.28 L399.09,189.4 L399.43,188.57 L399.8,187.8 L400.2,187.1 L400.61,186.48 L401.02,185.92 L401.43,185.41 L401.86,184.94 L402.32,184.5 L402.82,184.09 L403.38,183.69 L404,183.3 L404.67,182.92 L405.38,182.56 L406.12,182.22 L406.92,181.9 L407.77,181.6 L408.7,181.32 L409.7,181.05 L410.8,180.8 L412.01,180.57 L413.34,180.38 L414.77,180.21 L416.26,180.05 L417.78,179.9 L419.31,179.75 L420.83,179.58 L422.3,179.4 L423.74,179.19 L425.18,178.94 L426.63,178.68 L428.07,178.43 L429.51,178.18 L430.95,177.97 L432.38,177.8 L433.8,177.7 L435.21,177.66 L436.6,177.68 L437.99,177.73 L439.38,177.82 L440.76,177.94 L442.16,178.06 L443.57,178.19 L445,178.3 L446.39,178.41 L447.71,178.53 L449.01,178.66 L450.33,178.8 L451.73,178.94 L453.26,179.09 L454.97,179.24 L456.9,179.4 L459.24,179.57 L462.02,179.76 L465.07,179.96 L468.19,180.17 L471.23,180.36 L473.99,180.54 L476.31,180.69 L478,180.8" fill="none" stroke="#111" stroke-width="1.4" stroke-linejoin="round" stroke-linecap="round"/>
<text transform="translate(484.9,173.9) scale(1,1.1)" fill="#111">WT</text>
<text transform="translate(484.9,183.8) scale(1,1.1)" fill="#111"><tspan font-size="7.6">γ</tspan>-chain<tspan font-size="5" dy="-3.6">+/-</tspan></text>
<text transform="translate(485,196.1) scale(1,1.1)" fill="#111">CD148</text>
<text transform="translate(485,206.6) scale(1,1.1)" fill="#111">TM-KO</text>
<line x1="389.8" y1="218.9" x2="405.3" y2="218.9" stroke="#111" stroke-width="1.5"/>
<text transform="translate(397.55,230.8) scale(1,1.1)" text-anchor="middle" fill="#111">1 min</text>
<text transform="translate(77.5,256.8) scale(1,1.1)" text-anchor="middle" fill="#111">1 μg/mL</text>
<text transform="translate(77,267.6) scale(1,1.1)" text-anchor="middle" fill="#111">collagen</text>
<path d="M73.3,274.5 L80.7,274.5 L77,281.4Z" fill="#111"/>
<path d="M51.5,289.2 L57,289.2 L57,368.5 L51.5,368.5" fill="none" stroke="#111" stroke-width="1.3"/>
<text transform="translate(49.4,292.2) scale(1,1.1)" text-anchor="end" fill="#111">0</text>
<text transform="translate(49.4,372.2) scale(1,1.1)" text-anchor="end" fill="#111">70</text>
<text transform="translate(39,329.8) rotate(-90) scale(1,0.82)" text-anchor="middle" fill="#111" font-size="9">% aggregation</text>
<line x1="77.4" y1="283" x2="77.4" y2="290" stroke="#111" stroke-width="1.2"/>
<path d="M71.4,289.6 L77,289.6" fill="none" stroke="#111" stroke-width="1.4" stroke-linejoin="round" stroke-linecap="round"/>
<path d="M76.7,289.2 L77.11,289.22 L77.65,289.25 L78.3,289.29 L79.03,289.32 L79.79,289.36 L80.56,289.39 L81.31,289.4 L82,289.4 L82.66,289.38 L83.32,289.36 L83.97,289.32 L84.63,289.27 L85.28,289.22 L85.93,289.16 L86.57,289.08 L87.2,289 L87.82,288.91 L88.43,288.81 L89.03,288.7 L89.63,288.58 L90.22,288.45 L90.81,288.31 L91.4,288.16 L92,288 L92.58,287.84 L93.13,287.69 L93.67,287.53 L94.22,287.36 L94.79,287.17 L95.4,286.93 L96.06,286.65 L96.8,286.3 L97.62,285.86 L98.52,285.32 L99.48,284.71 L100.47,284.07 L101.49,283.44 L102.51,282.85 L103.52,282.32 L104.5,281.9 L105.42,281.58 L106.29,281.31 L107.13,281.1 L107.99,280.94 L108.89,280.81 L109.87,280.72 L110.96,280.65 L112.2,280.6 L113.57,280.58 L115.03,280.6 L116.59,280.66 L118.23,280.74 L119.97,280.84 L121.79,280.96 L123.7,281.08 L125.7,281.2 L127.83,281.33 L130.12,281.48 L132.52,281.64 L135,281.81 L137.52,281.98 L140.03,282.16 L142.5,282.33 L144.9,282.5 L147.36,282.67 L149.97,282.86 L152.63,283.04 L155.25,283.23 L157.72,283.41 L159.93,283.57 L161.79,283.7 L163.2,283.8" fill="none" stroke="#111" stroke-width="1.7" stroke-linejoin="round" stroke-linecap="round"/>
<path d="M76.7,289.2 L76.95,289.1 L77.28,288.97 L77.67,288.81 L78.1,288.63 L78.57,288.45 L79.05,288.28 L79.53,288.12 L80,288 L80.47,287.89 L80.95,287.79 L81.45,287.7 L81.96,287.61 L82.47,287.55 L82.98,287.5 L83.5,287.49 L84,287.5 L84.5,287.56 L85,287.65 L85.5,287.78 L86,287.93 L86.5,288.08 L87,288.24 L87.5,288.38 L88,288.5 L88.49,288.62 L88.98,288.75 L89.46,288.89 L89.95,289.02 L90.44,289.13 L90.94,289.2 L91.46,289.23 L92,289.2 L92.54,289.12 L93.08,289.01 L93.61,288.86 L94.17,288.67 L94.75,288.45 L95.38,288.18 L96.06,287.86 L96.8,287.5 L97.62,287.05 L98.52,286.5 L99.48,285.89 L100.47,285.24 L101.49,284.59 L102.51,283.98 L103.52,283.44 L104.5,283 L105.42,282.65 L106.29,282.33 L107.13,282.06 L107.99,281.84 L108.89,281.67 L109.87,281.56 L110.96,281.5 L112.2,281.5 L113.57,281.58 L115.03,281.74 L116.59,281.96 L118.23,282.23 L119.97,282.54 L121.79,282.86 L123.7,283.19 L125.7,283.5 L127.83,283.81 L130.12,284.15 L132.52,284.51 L135,284.88 L137.52,285.24 L140.03,285.61 L142.5,285.96 L144.9,286.3 L147.36,286.64 L149.97,286.98 L152.63,287.33 L155.25,287.68 L157.72,287.99 L159.93,288.28 L161.79,288.52 L163.2,288.7" fill="none" stroke="#111" stroke-width="1.7" stroke-linejoin="round" stroke-linecap="round"/>
<path d="M76.7,289.2 L76.95,289.07 L77.29,288.88 L77.69,288.67 L78.14,288.42 L78.61,288.18 L79.09,287.93 L79.56,287.7 L80,287.5 L80.4,287.33 L80.79,287.18 L81.16,287.04 L81.54,286.91 L81.94,286.78 L82.38,286.64 L82.86,286.48 L83.4,286.3 L84.01,286.08 L84.68,285.8 L85.4,285.51 L86.16,285.21 L86.93,284.92 L87.7,284.68 L88.46,284.5 L89.2,284.4 L89.92,284.37 L90.65,284.38 L91.38,284.43 L92.11,284.54 L92.83,284.69 L93.54,284.9 L94.23,285.17 L94.9,285.5 L95.53,285.89 L96.12,286.33 L96.68,286.83 L97.23,287.38 L97.79,287.99 L98.38,288.67 L99.01,289.4 L99.7,290.2 L100.45,291.08 L101.24,292.05 L102.06,293.09 L102.92,294.19 L103.8,295.32 L104.69,296.48 L105.59,297.65 L106.5,298.8 L107.43,299.99 L108.41,301.24 L109.41,302.53 L110.42,303.83 L111.42,305.11 L112.39,306.33 L113.33,307.47 L114.2,308.5 L114.98,309.41 L115.67,310.23 L116.31,310.97 L116.93,311.66 L117.56,312.3 L118.25,312.93 L119.01,313.56 L119.9,314.2 L120.87,314.85 L121.89,315.48 L122.96,316.11 L124.09,316.71 L125.3,317.31 L126.6,317.88 L128,318.45 L129.5,319 L131.13,319.53 L132.87,320.05 L134.72,320.55 L136.66,321.04 L138.66,321.52 L140.71,321.99 L142.8,322.45 L144.9,322.9 L147.17,323.36 L149.7,323.84 L152.35,324.33 L155.01,324.79 L157.55,325.23 L159.84,325.62 L161.77,325.95 L163.2,326.2" fill="none" stroke="#111" stroke-width="1.8" stroke-linejoin="round" stroke-linecap="round"/>
<text transform="translate(168.2,273.1) scale(1,1.1)" fill="#111">CD148</text>
<text transform="translate(168.4,284.1) scale(1,1.1)" fill="#111">TM-KO</text>
<text transform="translate(168.2,293.9) scale(1,1.1)" fill="#111"><tspan font-size="7.6">γ</tspan>-chain<tspan font-size="5" dy="-3.6">+/-</tspan></text>
<text transform="translate(167.9,329.3) scale(1,1.1)" fill="#111">WT</text>
<path d="M52,416.4 L56.5,416.4 L56.5,447.7 L52,447.7" fill="none" stroke="#111" stroke-width="1.3"/>
<text transform="translate(50,419.7) scale(1,1.1)" text-anchor="end" fill="#111">2</text>
<text transform="translate(50,449.7) scale(1,1.1)" text-anchor="end" fill="#111">0</text>
<text transform="translate(39.2,433.9) rotate(-90) scale(1,1.0)" text-anchor="middle" fill="#111" font-size="9">ATP (nmol)</text>
<path d="M73.4,447.3 L164,447" fill="none" stroke="#111" stroke-width="1.3" stroke-linejoin="round" stroke-linecap="round"/>
<path d="M76.8,446 L76.8,450.4" fill="none" stroke="#111" stroke-width="1.8" stroke-linejoin="round" stroke-linecap="round"/>
<path d="M80,447.3 L81,447.29 L82.35,447.3 L83.96,447.3 L85.74,447.3 L87.59,447.28 L89.43,447.23 L91.16,447.14 L92.7,447 L94.06,446.79 L95.35,446.52 L96.59,446.21 L97.78,445.86 L98.95,445.51 L100.12,445.17 L101.29,444.86 L102.5,444.6 L103.67,444.38 L104.76,444.17 L105.83,443.99 L106.91,443.82 L108.05,443.67 L109.29,443.53 L110.7,443.41 L112.3,443.3 L114.02,443.21 L115.79,443.15 L117.64,443.1 L119.64,443.07 L121.82,443.05 L124.24,443.03 L126.95,443.02 L130,443 L133.7,442.99 L138.15,442.98 L143.05,442.98 L148.11,442.98 L153.02,442.99 L157.51,442.99 L161.27,443 L164,443" fill="none" stroke="#111" stroke-width="1.3" stroke-linejoin="round" stroke-linecap="round"/>
<path d="M80,447.3 L81.58,447.22 L83.71,447.1 L86.25,446.97 L89.06,446.82 L91.99,446.67 L94.88,446.51 L97.6,446.35 L100,446.2 L102.11,446.05 L104.1,445.88 L105.99,445.71 L107.81,445.54 L109.59,445.37 L111.37,445.22 L113.16,445.1 L115,445 L116.75,444.93 L118.3,444.89 L119.79,444.86 L121.31,444.86 L122.98,444.86 L124.91,444.87 L127.22,444.89 L130,444.9 L133.57,444.92 L137.96,444.95 L142.85,445 L147.94,445.04 L152.91,445.09 L157.45,445.14 L161.25,445.17 L164,445.2" fill="none" stroke="#111" stroke-width="1.2" stroke-linejoin="round" stroke-linecap="round"/>
<text transform="translate(168,436.6) scale(1,1.1)" fill="#111">WT</text>
<text transform="translate(168,447.2) scale(1,1.1)" fill="#111"><tspan font-size="7.6">γ</tspan>-chain<tspan font-size="5" dy="-3.6">+/-</tspan></text>
<text transform="translate(168,458.6) scale(1,1.1)" fill="#111">CD148</text>
<text transform="translate(168,469.6) scale(1,1.1)" fill="#111">TM-KO</text>
<line x1="78.1" y1="467.4" x2="93.8" y2="467.4" stroke="#111" stroke-width="1.5"/>
<text transform="translate(85.95,480) scale(1,1.1)" text-anchor="middle" fill="#111">1 min</text>
<text transform="translate(242.6,253.4) scale(1,1.1)" text-anchor="middle" fill="#111">3 μg/mL</text>
<text transform="translate(242.6,263.8) scale(1,1.1)" text-anchor="middle" fill="#111">collagen</text>
<path d="M238.7,269.6 L246.1,269.6 L242.4,276.2Z" fill="#111"/>
<line x1="241.4" y1="280.4" x2="241.4" y2="288" stroke="#111" stroke-width="1.2"/>
<path d="M237,288.1 L247,288.1" fill="none" stroke="#111" stroke-width="1.3" stroke-linejoin="round" stroke-linecap="round"/>
<path d="M248.7,288.2 L248.88,288.12 L249.11,288.01 L249.39,287.9 L249.71,287.76 L250.04,287.6 L250.37,287.42 L250.7,287.22 L251,287 L251.28,286.74 L251.54,286.45 L251.8,286.12 L252.06,285.78 L252.33,285.44 L252.63,285.1 L252.95,284.78 L253.3,284.5 L253.7,284.24 L254.14,283.99 L254.62,283.76 L255.11,283.53 L255.6,283.32 L256.09,283.13 L256.56,282.95 L257,282.8 L257.4,282.67 L257.77,282.58 L258.12,282.5 L258.47,282.44 L258.82,282.39 L259.18,282.34 L259.57,282.28 L260,282.2 L260.46,282.11 L260.96,282 L261.47,281.89 L262,281.77 L262.54,281.66 L263.09,281.56 L263.65,281.47 L264.2,281.4 L264.75,281.33 L265.3,281.26 L265.86,281.18 L266.42,281.12 L266.99,281.09 L267.58,281.08 L268.18,281.12 L268.8,281.2 L269.43,281.32 L270.05,281.46 L270.68,281.64 L271.33,281.84 L272,282.1 L272.71,282.4 L273.48,282.77 L274.3,283.2 L275.16,283.73 L276.05,284.35 L276.98,285.05 L277.94,285.79 L278.97,286.55 L280.06,287.31 L281.24,288.03 L282.5,288.7 L283.88,289.32 L285.38,289.93 L286.96,290.53 L288.61,291.11 L290.3,291.68 L291.99,292.23 L293.67,292.77 L295.3,293.3 L296.87,293.8 L298.39,294.27 L299.9,294.72 L301.41,295.16 L302.96,295.59 L304.58,296.04 L306.28,296.51 L308.1,297 L310.17,297.55 L312.53,298.17 L315.05,298.83 L317.6,299.48 L320.05,300.11 L322.27,300.67 L324.13,301.15 L325.5,301.5" fill="none" stroke="#111" stroke-width="1.3" stroke-linejoin="round" stroke-linecap="round"/>
<path d="M244.03,288.6 L244.56,288.56 L245.3,288.48 L246.17,288.37 L247.11,288.28 L248.06,288.23 L248.95,288.24 L249.73,288.35 L250.32,288.56 L250.77,288.86 L251.13,289.23 L251.44,289.68 L251.71,290.23 L251.97,290.87 L252.25,291.63 L252.56,292.49 L252.93,293.44 L253.35,294.52 L253.79,295.73 L254.25,297.05 L254.72,298.45 L255.2,299.91 L255.68,301.41 L256.15,302.92 L256.62,304.42 L257.06,305.91 L257.5,307.42 L257.93,308.96 L258.36,310.52 L258.8,312.12 L259.25,313.75 L259.72,315.42 L260.22,317.11 L260.73,318.89 L261.26,320.75 L261.82,322.67 L262.39,324.6 L262.97,326.53 L263.55,328.4 L264.12,330.2 L264.68,331.88 L265.16,333.49 L265.63,335.05 L266.09,336.55 L266.56,338 L267.04,339.4 L267.53,340.73 L268.06,342.01 L268.62,343.22 L269.26,344.32 L269.91,345.32 L270.58,346.24 L271.27,347.09 L271.98,347.89 L272.71,348.65 L273.47,349.38 L274.26,350.1 L275.08,350.79 L275.91,351.42 L276.75,352.02 L277.63,352.59 L278.55,353.14 L279.55,353.7 L280.64,354.28 L281.85,354.9 L283.2,355.57 L284.69,356.29 L286.29,357.04 L287.97,357.8 L289.7,358.54 L291.44,359.25 L293.17,359.9 L294.86,360.48 L296.47,360.97 L298.04,361.39 L299.59,361.75 L301.13,362.07 L302.7,362.36 L304.32,362.65 L306.02,362.95 L307.84,363.28 L309.92,363.65 L312.29,364.05 L314.81,364.47 L317.36,364.88 L319.81,365.26 L322.03,365.61 L323.89,365.91 L325.26,366.13 L325.74,363.07 L324.36,362.86 L322.5,362.58 L320.28,362.24 L317.84,361.86 L315.29,361.47 L312.78,361.07 L310.43,360.68 L308.36,360.32 L306.54,360.01 L304.83,359.72 L303.22,359.45 L301.69,359.17 L300.21,358.88 L298.74,358.55 L297.26,358.17 L295.74,357.72 L294.15,357.18 L292.5,356.55 L290.82,355.87 L289.14,355.14 L287.5,354.4 L285.94,353.67 L284.47,352.96 L283.15,352.3 L281.98,351.71 L280.94,351.16 L280.01,350.63 L279.16,350.13 L278.38,349.62 L277.63,349.09 L276.89,348.52 L276.14,347.9 L275.37,347.26 L274.64,346.62 L273.95,345.97 L273.28,345.3 L272.64,344.58 L272.02,343.8 L271.4,342.94 L270.78,341.98 L270.12,340.95 L269.48,339.83 L268.85,338.62 L268.23,337.34 L267.61,335.98 L266.99,334.55 L266.36,333.06 L265.72,331.52 L265.13,329.86 L264.52,328.09 L263.91,326.23 L263.3,324.32 L262.69,322.4 L262.1,320.5 L261.53,318.65 L260.98,316.89 L260.49,315.19 L260.02,313.54 L259.57,311.91 L259.13,310.31 L258.7,308.74 L258.27,307.2 L257.83,305.68 L257.38,304.18 L256.92,302.68 L256.44,301.17 L255.96,299.67 L255.48,298.2 L255,296.79 L254.54,295.46 L254.09,294.24 L253.67,293.16 L253.31,292.21 L253,291.35 L252.72,290.59 L252.44,289.9 L252.13,289.28 L251.75,288.72 L251.28,288.25 L250.68,287.84 L249.91,287.57 L249.01,287.44 L248.04,287.43 L247.04,287.48 L246.08,287.58 L245.21,287.68 L244.49,287.77 L243.97,287.8Z" fill="#111" stroke="#111" stroke-width="0.5" stroke-linejoin="round"/>
<path d="M250.84,288.41 L251.05,288.08 L251.33,287.61 L251.65,287.07 L252.01,286.47 L252.39,285.87 L252.79,285.3 L253.19,284.79 L253.57,284.39 L253.97,284.07 L254.42,283.76 L254.89,283.49 L255.38,283.25 L255.86,283.05 L256.31,282.89 L256.72,282.77 L257.08,282.69 L257.38,282.64 L257.6,282.6 L257.74,282.6 L257.82,282.61 L257.9,282.66 L258.03,282.79 L258.22,283.03 L258.46,283.41 L258.74,283.91 L259.05,284.52 L259.38,285.24 L259.72,286.04 L260.08,286.9 L260.43,287.82 L260.78,288.76 L261.12,289.73 L261.45,290.71 L261.77,291.74 L262.08,292.8 L262.4,293.91 L262.73,295.07 L263.07,296.29 L263.43,297.57 L263.82,298.91 L264.22,300.33 L264.65,301.81 L265.09,303.37 L265.55,304.97 L266.02,306.62 L266.5,308.3 L267,310 L267.52,311.71 L268.05,313.49 L268.61,315.37 L269.18,317.3 L269.77,319.25 L270.36,321.17 L270.96,323.02 L271.55,324.76 L272.13,326.34 L272.68,327.77 L273.22,329.07 L273.76,330.28 L274.29,331.41 L274.84,332.48 L275.39,333.51 L275.97,334.53 L276.57,335.56 L277.12,336.64 L277.68,337.72 L278.26,338.8 L278.86,339.85 L279.5,340.87 L280.18,341.84 L280.92,342.75 L281.71,343.57 L282.53,344.21 L283.29,344.73 L284.08,345.15 L284.9,345.51 L285.8,345.81 L286.81,346.11 L288.01,346.43 L289.46,346.81 L291.25,347.24 L293.33,347.69 L295.62,348.15 L298.04,348.62 L300.54,349.09 L303.05,349.57 L305.49,350.05 L307.79,350.52 L310.12,351.01 L312.6,351.55 L315.12,352.1 L317.61,352.64 L319.95,353.16 L322.05,353.62 L323.82,354.01 L325.15,354.31 L325.85,351.09 L324.51,350.81 L322.74,350.44 L320.63,350 L318.28,349.51 L315.79,348.99 L313.25,348.46 L310.76,347.95 L308.41,347.48 L306.07,347.03 L303.61,346.58 L301.1,346.12 L298.59,345.67 L296.18,345.23 L293.92,344.8 L291.88,344.38 L290.14,343.99 L288.69,343.66 L287.51,343.39 L286.56,343.17 L285.8,342.96 L285.17,342.74 L284.59,342.47 L283.98,342.11 L283.29,341.63 L282.52,341.08 L281.77,340.43 L281.02,339.67 L280.29,338.84 L279.56,337.94 L278.84,336.99 L278.13,336.02 L277.43,335.04 L276.81,334.04 L276.22,333.05 L275.65,332.04 L275.1,331 L274.55,329.91 L274,328.73 L273.44,327.46 L272.87,326.06 L272.3,324.49 L271.72,322.77 L271.12,320.93 L270.53,319.01 L269.95,317.07 L269.37,315.14 L268.82,313.26 L268.28,311.49 L267.77,309.78 L267.27,308.08 L266.79,306.4 L266.32,304.75 L265.86,303.15 L265.42,301.6 L264.99,300.11 L264.58,298.69 L264.2,297.35 L263.84,296.07 L263.5,294.86 L263.17,293.69 L262.85,292.57 L262.53,291.5 L262.21,290.47 L261.88,289.47 L261.53,288.49 L261.18,287.53 L260.82,286.61 L260.46,285.73 L260.11,284.91 L259.77,284.17 L259.45,283.53 L259.14,282.99 L258.87,282.58 L258.63,282.26 L258.39,282.03 L258.11,281.86 L257.81,281.8 L257.52,281.81 L257.24,281.85 L256.92,281.91 L256.52,281.99 L256.06,282.13 L255.57,282.3 L255.05,282.52 L254.52,282.79 L253.99,283.09 L253.49,283.43 L253.03,283.81 L252.59,284.27 L252.15,284.82 L251.73,285.43 L251.33,286.05 L250.96,286.66 L250.64,287.21 L250.37,287.66 L250.16,287.99Z" fill="#111" stroke="#111" stroke-width="0.5" stroke-linejoin="round"/>
<text transform="translate(331,301.1) scale(1,1.1)" fill="#111">CD148</text>
<text transform="translate(331,312.1) scale(1,1.1)" fill="#111">TM-KO</text>
<text transform="translate(330.9,356.4) scale(1,1.1)" fill="#111"><tspan font-size="7.6">γ</tspan>-chain<tspan font-size="5" dy="-3.6">+/-</tspan></text>
<text transform="translate(330.5,369.6) scale(1,1.1)" fill="#111">WT</text>
<path d="M238.7,449.8 L239.85,449.78 L241.24,449.76 L242.9,449.75 L244.81,449.72 L246.97,449.68 L249.39,449.61 L252.07,449.52 L255,449.4 L258.26,449.23 L261.89,449.02 L265.81,448.77 L269.96,448.51 L274.29,448.23 L278.73,447.97 L283.22,447.72 L287.7,447.5 L292.5,447.3 L297.82,447.1 L303.4,446.91 L308.99,446.73 L314.33,446.57 L319.15,446.42 L323.19,446.3 L326.2,446.2" fill="none" stroke="#111" stroke-width="1.3" stroke-linejoin="round" stroke-linecap="round"/>
<path d="M245.4,447.5 L245.4,453.6" fill="none" stroke="#111" stroke-width="1.3" stroke-linejoin="round" stroke-linecap="round"/>
<path d="M250,449.5 L250.38,449.47 L250.88,449.46 L251.46,449.45 L252.12,449.42 L252.83,449.36 L253.56,449.23 L254.29,449.02 L255,448.7 L255.69,448.27 L256.39,447.74 L257.11,447.13 L257.84,446.46 L258.6,445.75 L259.37,445 L260.17,444.25 L261,443.5 L261.84,442.75 L262.68,441.97 L263.53,441.18 L264.41,440.36 L265.33,439.52 L266.31,438.66 L267.36,437.79 L268.5,436.9 L269.73,435.97 L271.05,434.98 L272.43,433.97 L273.88,432.94 L275.37,431.92 L276.89,430.95 L278.44,430.03 L280,429.2 L281.59,428.43 L283.24,427.7 L284.92,427 L286.63,426.36 L288.36,425.76 L290.09,425.24 L291.8,424.78 L293.5,424.4 L295.14,424.11 L296.72,423.92 L298.27,423.8 L299.84,423.74 L301.45,423.72 L303.14,423.74 L304.94,423.77 L306.9,423.8 L309.16,423.86 L311.76,423.96 L314.55,424.1 L317.39,424.26 L320.12,424.43 L322.59,424.58 L324.67,424.71 L326.2,424.8" fill="none" stroke="#111" stroke-width="1.4" stroke-linejoin="round" stroke-linecap="round"/>
<path d="M252,449.5 L252.29,449.43 L252.67,449.34 L253.12,449.24 L253.62,449.12 L254.18,448.99 L254.77,448.84 L255.38,448.68 L256,448.5 L256.65,448.3 L257.35,448.07 L258.08,447.82 L258.84,447.56 L259.63,447.29 L260.42,447.02 L261.21,446.75 L262,446.5 L262.75,446.28 L263.47,446.09 L264.18,445.91 L264.91,445.72 L265.67,445.52 L266.51,445.28 L267.44,444.98 L268.5,444.6 L269.71,444.13 L271.07,443.56 L272.53,442.93 L274.06,442.26 L275.61,441.59 L277.14,440.93 L278.62,440.33 L280,439.8 L281.24,439.33 L282.35,438.89 L283.4,438.49 L284.44,438.11 L285.52,437.76 L286.7,437.44 L288.04,437.15 L289.6,436.9 L291.38,436.68 L293.34,436.51 L295.44,436.36 L297.64,436.25 L299.93,436.16 L302.25,436.09 L304.59,436.04 L306.9,436 L309.35,435.98 L312.04,436 L314.84,436.04 L317.63,436.09 L320.29,436.16 L322.69,436.22 L324.7,436.27 L326.2,436.3" fill="none" stroke="#111" stroke-width="1.4" stroke-linejoin="round" stroke-linecap="round"/>
<text transform="translate(330.9,427.3) scale(1,1.1)" fill="#111">WT</text>
<text transform="translate(330.9,438.1) scale(1,1.1)" fill="#111"><tspan font-size="7.6">γ</tspan>-chain<tspan font-size="5" dy="-3.6">+/-</tspan></text>
<text transform="translate(330.9,453) scale(1,1.1)" fill="#111">CD148</text>
<text transform="translate(330.9,463.9) scale(1,1.1)" fill="#111">TM-KO</text>
<line x1="245.5" y1="467.4" x2="260.3" y2="467.4" stroke="#111" stroke-width="1.5"/>
<text transform="translate(252.9,480) scale(1,1.1)" text-anchor="middle" fill="#111">1 min</text>
<text transform="translate(392,253.9) scale(1,1.1)" text-anchor="middle" fill="#111">10 μg/mL</text>
<text transform="translate(391.8,264.5) scale(1,1.1)" text-anchor="middle" fill="#111">collagen</text>
<path d="M386.3,270.1 L393.7,270.1 L390,276.5Z" fill="#111"/>
<line x1="389.4" y1="282" x2="389.4" y2="288.5" stroke="#111" stroke-width="1.2"/>
<path d="M384.7,288.1 L395,288.1" fill="none" stroke="#111" stroke-width="1.3" stroke-linejoin="round" stroke-linecap="round"/>
<path d="M388.99,288.45 L389.47,288.46 L390.11,288.48 L390.87,288.51 L391.72,288.54 L392.62,288.55 L393.51,288.55 L394.37,288.52 L395.14,288.45 L395.85,288.33 L396.53,288.18 L397.19,288 L397.82,287.81 L398.45,287.6 L399.06,287.4 L399.67,287.21 L400.29,287.04 L400.94,286.86 L401.6,286.65 L402.27,286.45 L402.92,286.25 L403.55,286.08 L404.15,285.94 L404.7,285.86 L405.2,285.85 L405.66,285.87 L406.07,285.9 L406.43,285.95 L406.74,286.04 L407.04,286.19 L407.34,286.43 L407.65,286.79 L408,287.28 L408.36,287.93 L408.71,288.71 L409.06,289.61 L409.41,290.61 L409.77,291.69 L410.15,292.85 L410.55,294.06 L410.97,295.31 L411.43,296.66 L411.93,298.13 L412.45,299.7 L412.99,301.32 L413.52,302.94 L414.04,304.53 L414.52,306.03 L414.97,307.41 L415.36,308.67 L415.72,309.87 L416.06,311.01 L416.38,312.1 L416.69,313.15 L417,314.17 L417.33,315.15 L417.67,316.12 L418.03,317.06 L418.39,317.95 L418.76,318.79 L419.13,319.61 L419.51,320.39 L419.88,321.16 L420.24,321.93 L420.59,322.69 L420.91,323.44 L421.21,324.16 L421.49,324.86 L421.78,325.56 L422.09,326.27 L422.42,327 L422.8,327.78 L423.23,328.62 L423.72,329.53 L424.26,330.51 L424.84,331.54 L425.45,332.58 L426.08,333.63 L426.71,334.66 L427.33,335.64 L427.93,336.56 L428.54,337.4 L429.14,338.21 L429.74,338.98 L430.34,339.73 L430.94,340.45 L431.55,341.14 L432.15,341.8 L432.76,342.44 L433.35,343.04 L433.93,343.6 L434.51,344.14 L435.09,344.65 L435.7,345.15 L436.34,345.63 L437.02,346.09 L437.75,346.55 L438.54,347 L439.39,347.43 L440.27,347.83 L441.16,348.2 L442.05,348.57 L442.92,348.92 L443.75,349.26 L444.52,349.6 L445.2,349.92 L445.77,350.2 L446.3,350.47 L446.86,350.75 L447.48,351.05 L448.21,351.38 L449.12,351.77 L450.24,352.21 L451.58,352.75 L453.12,353.35 L454.82,354 L456.63,354.69 L458.53,355.4 L460.47,356.1 L462.43,356.78 L464.35,357.43 L466.38,358.08 L468.61,358.77 L470.93,359.46 L473.25,360.13 L475.45,360.76 L477.44,361.33 L479.1,361.81 L480.34,362.19 L481.26,358.81 L480.01,358.5 L478.32,358.07 L476.32,357.57 L474.11,357 L471.79,356.39 L469.47,355.76 L467.26,355.15 L465.25,354.57 L463.35,353.98 L461.41,353.35 L459.48,352.71 L457.58,352.06 L455.76,351.42 L454.06,350.82 L452.51,350.27 L451.16,349.79 L450.07,349.37 L449.2,349.03 L448.51,348.74 L447.92,348.49 L447.38,348.24 L446.83,347.99 L446.21,347.71 L445.48,347.4 L444.65,347.06 L443.78,346.73 L442.9,346.4 L442.02,346.07 L441.16,345.73 L440.33,345.38 L439.56,345.02 L438.85,344.65 L438.2,344.25 L437.59,343.85 L437.02,343.43 L436.47,343 L435.93,342.54 L435.38,342.05 L434.82,341.52 L434.24,340.96 L433.65,340.37 L433.06,339.76 L432.46,339.11 L431.87,338.44 L431.27,337.74 L430.68,337.01 L430.07,336.24 L429.47,335.44 L428.83,334.6 L428.16,333.68 L427.48,332.72 L426.8,331.73 L426.14,330.74 L425.5,329.76 L424.91,328.84 L424.37,327.98 L423.9,327.19 L423.49,326.46 L423.12,325.77 L422.78,325.09 L422.45,324.43 L422.12,323.75 L421.78,323.05 L421.41,322.31 L421.03,321.54 L420.64,320.79 L420.25,320.03 L419.85,319.26 L419.46,318.47 L419.08,317.65 L418.7,316.79 L418.33,315.88 L417.99,314.93 L417.67,313.95 L417.36,312.95 L417.05,311.9 L416.73,310.81 L416.39,309.67 L416.03,308.46 L415.63,307.19 L415.19,305.82 L414.7,304.31 L414.18,302.73 L413.65,301.1 L413.12,299.48 L412.59,297.91 L412.09,296.43 L411.63,295.09 L411.21,293.84 L410.81,292.63 L410.44,291.47 L410.07,290.38 L409.72,289.36 L409.36,288.44 L408.99,287.62 L408.6,286.92 L408.21,286.35 L407.82,285.92 L407.42,285.61 L407.01,285.39 L406.58,285.27 L406.15,285.2 L405.7,285.17 L405.2,285.15 L404.64,285.17 L404.02,285.25 L403.38,285.4 L402.73,285.58 L402.06,285.78 L401.4,285.99 L400.74,286.19 L400.11,286.36 L399.47,286.54 L398.85,286.74 L398.23,286.94 L397.61,287.14 L396.99,287.33 L396.36,287.5 L395.72,287.65 L395.06,287.75 L394.32,287.82 L393.5,287.85 L392.62,287.85 L391.74,287.84 L390.9,287.81 L390.13,287.78 L389.49,287.76 L389.01,287.75Z" fill="#111" stroke="#111" stroke-width="0.5" stroke-linejoin="round"/>
<path d="M394.72,288.64 L394.97,289.29 L395.29,290.13 L395.67,291.12 L396.09,292.23 L396.53,293.44 L396.98,294.71 L397.42,296.01 L397.82,297.31 L398.19,298.64 L398.56,300.02 L398.93,301.45 L399.29,302.94 L399.66,304.49 L400.03,306.08 L400.42,307.71 L400.81,309.39 L401.21,311.17 L401.63,313.08 L402.06,315.07 L402.49,317.1 L402.92,319.1 L403.35,321.04 L403.76,322.86 L404.16,324.51 L404.5,326.01 L404.83,327.38 L405.15,328.66 L405.46,329.85 L405.77,330.99 L406.07,332.1 L406.38,333.18 L406.69,334.27 L406.98,335.35 L407.26,336.37 L407.54,337.35 L407.82,338.31 L408.11,339.27 L408.4,340.23 L408.72,341.22 L409.06,342.24 L409.4,343.33 L409.75,344.46 L410.13,345.62 L410.52,346.81 L410.93,348 L411.37,349.18 L411.83,350.33 L412.31,351.43 L412.86,352.42 L413.39,353.37 L413.95,354.3 L414.54,355.22 L415.18,356.13 L415.87,357.02 L416.63,357.89 L417.45,358.73 L418.34,359.5 L419.27,360.23 L420.23,360.93 L421.24,361.59 L422.3,362.23 L423.41,362.85 L424.57,363.45 L425.81,364.05 L427.18,364.67 L428.69,365.28 L430.27,365.88 L431.88,366.46 L433.48,367.01 L435.01,367.53 L436.42,367.99 L437.66,368.39 L438.6,368.74 L439.29,369.02 L439.88,369.27 L440.51,369.51 L441.23,369.74 L442.1,369.95 L443.21,370.17 L444.69,370.43 L446.59,370.74 L448.86,371.07 L451.39,371.42 L454.09,371.76 L456.85,372.1 L459.58,372.43 L462.18,372.75 L464.55,373.04 L466.82,373.29 L469.14,373.53 L471.45,373.76 L473.66,373.98 L475.72,374.18 L477.55,374.36 L479.08,374.51 L480.26,374.64 L480.74,369.16 L479.55,369.08 L478,368.98 L476.17,368.85 L474.12,368.7 L471.91,368.53 L469.62,368.35 L467.31,368.16 L465.05,367.96 L462.68,367.77 L460.08,367.56 L457.35,367.33 L454.59,367.09 L451.9,366.85 L449.39,366.61 L447.16,366.38 L445.31,366.17 L443.92,365.97 L442.94,365.81 L442.26,365.68 L441.77,365.55 L441.31,365.41 L440.74,365.21 L439.97,364.94 L438.94,364.61 L437.69,364.18 L436.29,363.71 L434.79,363.2 L433.24,362.65 L431.69,362.08 L430.19,361.5 L428.81,360.92 L427.59,360.35 L426.49,359.77 L425.46,359.19 L424.5,358.6 L423.61,358.01 L422.78,357.4 L421.99,356.78 L421.25,356.13 L420.55,355.47 L419.88,354.82 L419.28,354.15 L418.71,353.46 L418.17,352.73 L417.65,351.96 L417.13,351.14 L416.61,350.27 L416.09,349.37 L415.51,348.47 L414.95,347.51 L414.39,346.48 L413.84,345.42 L413.3,344.33 L412.77,343.25 L412.25,342.18 L411.74,341.16 L411.27,340.19 L410.82,339.27 L410.39,338.38 L409.97,337.5 L409.56,336.61 L409.15,335.7 L408.73,334.74 L408.31,333.73 L407.9,332.68 L407.5,331.63 L407.1,330.57 L406.7,329.47 L406.3,328.32 L405.89,327.08 L405.47,325.75 L405.04,324.29 L404.63,322.65 L404.2,320.84 L403.77,318.92 L403.32,316.92 L402.88,314.9 L402.44,312.9 L402.01,310.99 L401.59,309.21 L401.2,307.53 L400.81,305.89 L400.44,304.3 L400.07,302.76 L399.7,301.26 L399.33,299.81 L398.96,298.42 L398.58,297.09 L398.18,295.77 L397.74,294.45 L397.28,293.17 L396.84,291.95 L396.41,290.83 L396.03,289.84 L395.71,289.01 L395.48,288.36Z" fill="#111" stroke="#111" stroke-width="0.5" stroke-linejoin="round"/>
<text transform="translate(463.2,341.7) scale(1,1.1)" fill="#111">CD148</text>
<text transform="translate(463.2,352.8) scale(1,1.1)" fill="#111">TM-KO</text>
<text transform="translate(484.8,368.9) scale(1,1.1)" fill="#111"><tspan font-size="7.6">γ</tspan>-chain<tspan font-size="5" dy="-3.6">+/-</tspan></text>
<text transform="translate(485,382.8) scale(1,1.1)" fill="#111">WT</text>
<circle cx="392.3" cy="449.6" r="0.9" fill="#111"/>
<path d="M388.6,448.8 L389.23,448.8 L390.08,448.8 L391.09,448.8 L392.21,448.81 L393.37,448.81 L394.51,448.81 L395.57,448.8 L396.5,448.8 L397.31,448.8 L398.05,448.8 L398.76,448.8 L399.43,448.8 L400.07,448.79 L400.71,448.78 L401.35,448.75 L402,448.7 L402.66,448.65 L403.31,448.62 L403.95,448.59 L404.59,448.54 L405.23,448.46 L405.86,448.33 L406.48,448.15 L407.1,447.9 L407.69,447.58 L408.25,447.21 L408.79,446.79 L409.34,446.32 L409.9,445.8 L410.5,445.24 L411.16,444.64 L411.9,444 L412.71,443.28 L413.58,442.48 L414.49,441.61 L415.45,440.71 L416.45,439.8 L417.47,438.91 L418.53,438.07 L419.6,437.3 L420.68,436.59 L421.78,435.91 L422.89,435.26 L424.04,434.64 L425.23,434.05 L426.48,433.49 L427.8,432.98 L429.2,432.5 L430.66,432.06 L432.17,431.66 L433.73,431.3 L435.35,430.98 L437.05,430.68 L438.83,430.42 L440.71,430.2 L442.7,430 L444.83,429.85 L447.12,429.74 L449.52,429.68 L452,429.64 L454.52,429.63 L457.03,429.62 L459.5,429.62 L461.9,429.6 L464.36,429.58 L466.97,429.57 L469.63,429.57 L472.25,429.58 L474.72,429.58 L476.93,429.59 L478.79,429.6 L480.2,429.6" fill="none" stroke="#111" stroke-width="1.4" stroke-linejoin="round" stroke-linecap="round"/>
<path d="M394,448.8 L394.18,448.85 L394.42,448.98 L394.69,449.14 L395.01,449.29 L395.35,449.36 L395.72,449.3 L396.1,449.07 L396.5,448.6 L396.92,447.88 L397.38,446.95 L397.86,445.84 L398.37,444.61 L398.88,443.28 L399.4,441.91 L399.91,440.54 L400.4,439.2 L400.88,437.84 L401.35,436.38 L401.83,434.87 L402.3,433.34 L402.77,431.83 L403.25,430.36 L403.72,428.97 L404.2,427.7 L404.67,426.55 L405.13,425.48 L405.58,424.49 L406.03,423.55 L406.5,422.65 L407,421.77 L407.53,420.89 L408.1,420 L408.7,419.11 L409.3,418.23 L409.93,417.37 L410.59,416.53 L411.29,415.7 L412.05,414.89 L412.88,414.09 L413.8,413.3 L414.8,412.52 L415.86,411.75 L416.98,411 L418.17,410.26 L419.42,409.53 L420.72,408.83 L422.08,408.15 L423.5,407.5 L424.98,406.86 L426.54,406.23 L428.17,405.62 L429.84,405.02 L431.57,404.47 L433.32,403.96 L435.1,403.5 L436.9,403.1 L438.74,402.77 L440.65,402.49 L442.6,402.27 L444.58,402.09 L446.56,401.95 L448.52,401.85 L450.44,401.76 L452.3,401.7 L454.09,401.67 L455.83,401.68 L457.54,401.73 L459.23,401.81 L460.9,401.9 L462.58,402 L464.28,402.11 L466,402.2 L467.85,402.3 L469.85,402.42 L471.91,402.55 L473.96,402.68 L475.89,402.81 L477.64,402.93 L479.1,403.03 L480.2,403.1" fill="none" stroke="#111" stroke-width="1.5" stroke-linejoin="round" stroke-linecap="round"/>
<path d="M394,448.8 L394.18,448.85 L394.42,448.98 L394.69,449.14 L395.01,449.29 L395.35,449.36 L395.72,449.3 L396.1,449.07 L396.5,448.6 L396.92,447.88 L397.38,446.95 L397.86,445.84 L398.37,444.61 L398.88,443.28 L399.4,441.91 L399.91,440.54 L400.4,439.2 L400.88,437.83 L401.35,436.37 L401.83,434.85 L402.3,433.31 L402.77,431.79 L403.25,430.32 L403.72,428.95 L404.2,427.7 L404.69,426.57 L405.19,425.5 L405.7,424.5 L406.21,423.57 L406.71,422.7 L407.19,421.9 L407.66,421.17 L408.1,420.5 L408.5,419.92 L408.85,419.46 L409.18,419.07 L409.49,418.74 L409.82,418.45 L410.16,418.16 L410.55,417.85 L411,417.5 L411.49,417.11 L412,416.72 L412.53,416.31 L413.1,415.91 L413.7,415.52 L414.35,415.13 L415.05,414.75 L415.8,414.4 L416.58,414.06 L417.39,413.72 L418.22,413.4 L419.11,413.08 L420.07,412.78 L421.11,412.5 L422.24,412.24 L423.5,412 L424.89,411.78 L426.4,411.56 L428.02,411.36 L429.72,411.18 L431.48,411.03 L433.28,410.91 L435.09,410.83 L436.9,410.8 L438.74,410.82 L440.65,410.9 L442.6,411.02 L444.58,411.17 L446.56,411.35 L448.52,411.54 L450.44,411.72 L452.3,411.9 L454.09,412.08 L455.83,412.26 L457.54,412.46 L459.23,412.66 L460.9,412.87 L462.58,413.08 L464.28,413.29 L466,413.5 L467.85,413.72 L469.85,413.96 L471.91,414.2 L473.96,414.45 L475.89,414.68 L477.64,414.89 L479.1,415.07 L480.2,415.2" fill="none" stroke="#111" stroke-width="1.5" stroke-linejoin="round" stroke-linecap="round"/>
<text transform="translate(484.9,407.8) scale(1,1.1)" fill="#111"><tspan font-size="7.6">γ</tspan>-chain<tspan font-size="5" dy="-3.6">+/-</tspan></text>
<text transform="translate(484.6,421.9) scale(1,1.1)" fill="#111">WT</text>
<text transform="translate(484.6,437.2) scale(1,1.1)" fill="#111">CD148</text>
<text transform="translate(484.6,448) scale(1,1.1)" fill="#111">TM-KO</text>
<line x1="410.5" y1="467.2" x2="425.6" y2="467.2" stroke="#111" stroke-width="1.5"/>
<text transform="translate(418.05,479) scale(1,1.1)" text-anchor="middle" fill="#111">1 min</text>
<text transform="translate(84.2,502.5) scale(1,1.1)" text-anchor="middle" fill="#111">0.03 U/mL</text>
<text transform="translate(84.1,513.4) scale(1,1.1)" text-anchor="middle" fill="#111">thrombin</text>
<path d="M80.5,518.8 L87.9,518.8 L84.2,525Z" fill="#111"/>
<path d="M51,533.9 L55.7,533.9 L55.7,601.3 L51,601.3" fill="none" stroke="#111" stroke-width="1.3"/>
<text transform="translate(49.4,537.2) scale(1,1.1)" text-anchor="end" fill="#111">0</text>
<text transform="translate(49.4,605.1) scale(1,1.1)" text-anchor="end" fill="#111">70</text>
<text transform="translate(34.9,565.9) rotate(-90) scale(1,1.0)" text-anchor="middle" fill="#111" font-size="9">% aggregation</text>
<path d="M78.8,535 L79.14,534.96 L79.61,534.92 L80.16,534.87 L80.77,534.81 L81.4,534.75 L82.01,534.67 L82.55,534.59 L83,534.5 L83.36,534.42 L83.67,534.34 L83.93,534.27 L84.17,534.19 L84.38,534.08 L84.59,533.94 L84.79,533.75 L85,533.5 L85.21,533.18 L85.39,532.79 L85.56,532.35 L85.73,531.88 L85.9,531.39 L86.08,530.9 L86.28,530.43 L86.5,530 L86.75,529.57 L87.03,529.11 L87.33,528.64 L87.64,528.19 L87.95,527.77 L88.25,527.42 L88.54,527.16 L88.8,527 L89.04,526.96 L89.26,527 L89.47,527.12 L89.67,527.31 L89.87,527.56 L90.07,527.84 L90.28,528.16 L90.5,528.5 L90.73,528.87 L90.97,529.3 L91.21,529.77 L91.45,530.28 L91.7,530.82 L91.96,531.37 L92.22,531.94 L92.5,532.5 L92.79,533.08 L93.09,533.68 L93.4,534.3 L93.72,534.94 L94.04,535.58 L94.36,536.23 L94.68,536.87 L95,537.5 L95.31,538.13 L95.61,538.76 L95.92,539.4 L96.22,540.03 L96.53,540.66 L96.84,541.29 L97.16,541.9 L97.5,542.5 L97.85,543.09 L98.21,543.66 L98.58,544.23 L98.95,544.79 L99.33,545.35 L99.72,545.9 L100.11,546.45 L100.5,547 L100.9,547.56 L101.31,548.12 L101.72,548.68 L102.14,549.24 L102.56,549.79 L102.97,550.32 L103.39,550.83 L103.8,551.3 L104.21,551.74 L104.61,552.16 L105.02,552.56 L105.42,552.94 L105.82,553.31 L106.22,553.65 L106.61,553.98 L107,554.3 L107.38,554.6 L107.75,554.89 L108.1,555.16 L108.46,555.41 L108.83,555.65 L109.2,555.88 L109.59,556.1 L110,556.3 L110.44,556.5 L110.91,556.71 L111.39,556.91 L111.89,557.09 L112.38,557.25 L112.87,557.37 L113.35,557.46 L113.8,557.5 L114.21,557.5 L114.59,557.47 L114.94,557.42 L115.29,557.33 L115.66,557.19 L116.05,557.01 L116.49,556.78 L117,556.5 L117.58,556.14 L118.21,555.69 L118.89,555.18 L119.61,554.62 L120.34,554.06 L121.07,553.5 L121.8,552.97 L122.5,552.5 L123.18,552.07 L123.84,551.67 L124.5,551.28 L125.16,550.91 L125.83,550.54 L126.52,550.19 L127.24,549.84 L128,549.5 L128.77,549.17 L129.52,548.87 L130.27,548.58 L131.06,548.29 L131.91,548 L132.83,547.7 L133.85,547.37 L135,547 L136.28,546.58 L137.68,546.12 L139.17,545.63 L140.75,545.12 L142.39,544.62 L144.07,544.13 L145.78,543.69 L147.5,543.3 L149.36,542.95 L151.43,542.63 L153.6,542.34 L155.78,542.07 L157.86,541.83 L159.75,541.62 L161.33,541.44 L162.5,541.3" fill="none" stroke="#444" stroke-width="1.05" stroke-linejoin="round" stroke-linecap="round"/>
<path d="M78.8,535 L79.14,534.96 L79.61,534.92 L80.16,534.87 L80.77,534.81 L81.4,534.75 L82.01,534.67 L82.55,534.59 L83,534.5 L83.36,534.4 L83.65,534.29 L83.91,534.16 L84.14,534.03 L84.35,533.9 L84.55,533.76 L84.77,533.63 L85,533.5 L85.25,533.38 L85.49,533.26 L85.73,533.15 L85.97,533.03 L86.21,532.91 L86.46,532.79 L86.73,532.65 L87,532.5 L87.29,532.32 L87.59,532.1 L87.9,531.86 L88.22,531.62 L88.54,531.4 L88.86,531.21 L89.18,531.07 L89.5,531 L89.81,530.98 L90.12,531 L90.44,531.06 L90.75,531.16 L91.06,531.3 L91.38,531.48 L91.69,531.71 L92,532 L92.31,532.34 L92.61,532.74 L92.92,533.19 L93.22,533.69 L93.53,534.22 L93.84,534.79 L94.16,535.38 L94.5,536 L94.85,536.66 L95.21,537.37 L95.59,538.13 L95.97,538.91 L96.35,539.7 L96.74,540.49 L97.12,541.26 L97.5,542 L97.87,542.72 L98.24,543.43 L98.61,544.14 L98.98,544.84 L99.35,545.53 L99.73,546.21 L100.11,546.86 L100.5,547.5 L100.9,548.12 L101.31,548.73 L101.72,549.32 L102.14,549.89 L102.56,550.45 L102.97,550.99 L103.39,551.51 L103.8,552 L104.21,552.47 L104.61,552.91 L105.02,553.33 L105.42,553.74 L105.82,554.12 L106.22,554.49 L106.61,554.85 L107,555.2 L107.38,555.54 L107.75,555.86 L108.1,556.16 L108.46,556.46 L108.83,556.74 L109.2,557 L109.59,557.26 L110,557.5 L110.44,557.73 L110.91,557.94 L111.39,558.14 L111.89,558.33 L112.38,558.51 L112.87,558.68 L113.35,558.84 L113.8,559 L114.21,559.15 L114.59,559.28 L114.94,559.4 L115.29,559.51 L115.66,559.62 L116.05,559.74 L116.49,559.86 L117,560 L117.58,560.16 L118.21,560.34 L118.89,560.54 L119.61,560.73 L120.34,560.92 L121.07,561.08 L121.8,561.21 L122.5,561.3 L123.18,561.34 L123.84,561.35 L124.5,561.34 L125.16,561.29 L125.83,561.23 L126.52,561.16 L127.24,561.08 L128,561 L128.77,560.92 L129.52,560.85 L130.27,560.76 L131.06,560.67 L131.91,560.55 L132.83,560.41 L133.85,560.23 L135,560 L136.28,559.72 L137.68,559.38 L139.17,559 L140.75,558.59 L142.39,558.18 L144.07,557.76 L145.78,557.36 L147.5,557 L149.36,556.65 L151.43,556.28 L153.6,555.92 L155.78,555.56 L157.86,555.23 L159.75,554.94 L161.33,554.69 L162.5,554.5" fill="none" stroke="#444" stroke-width="1.05" stroke-linejoin="round" stroke-linecap="round"/>
<text transform="translate(134.5,527.3) scale(1,1.1)" fill="#111">CD148</text>
<text transform="translate(134.8,537.8) scale(1,1.1)" fill="#111">TM-KO</text>
<text transform="translate(149.3,569) scale(1,1.1)" fill="#111">WT</text>
<path d="M51,636.5 L55.4,636.5 L55.4,673.5 L51,673.5" fill="none" stroke="#111" stroke-width="1.3"/>
<text transform="translate(49.1,639.3) scale(1,1.1)" text-anchor="end" fill="#111">2</text>
<text transform="translate(49.1,675.9) scale(1,1.1)" text-anchor="end" fill="#111">0</text>
<text transform="translate(35.8,653.3) rotate(-90) scale(1,1.0)" text-anchor="middle" fill="#111" font-size="9">ATP (nmol)</text>
<circle cx="76.9" cy="672.3" r="0.9" fill="#333"/>
<path d="M79,672.6 L161.8,672.6" fill="none" stroke="#555" stroke-width="1.1" stroke-linejoin="round" stroke-linecap="round"/>
<text transform="translate(149.7,668.3) scale(1,1.1)" fill="#111">WT</text>
<text transform="translate(134.6,685.6) scale(1,1.1)" fill="#111">CD148</text>
<text transform="translate(134.6,696.1) scale(1,1.1)" fill="#111">TM-KO</text>
<line x1="78.5" y1="695.5" x2="96.2" y2="695.5" stroke="#111" stroke-width="1.5"/>
<text transform="translate(87.35,707.7) scale(1,1.1)" text-anchor="middle" fill="#111">1 min</text>
<text transform="translate(260.2,502.5) scale(1,1.1)" text-anchor="middle" fill="#111">0.09 U/mL</text>
<text transform="translate(260.5,513.4) scale(1,1.1)" text-anchor="middle" fill="#111">thrombin</text>
<path d="M257.3,518.5 L264.7,518.5 L261,525.3Z" fill="#111"/>
<path d="M257.8,535.5 L257.97,535.47 L258.18,535.43 L258.44,535.39 L258.73,535.34 L259.03,535.28 L259.36,535.21 L259.68,535.11 L260,535 L260.33,534.87 L260.68,534.72 L261.05,534.55 L261.43,534.38 L261.8,534.18 L262.16,533.97 L262.5,533.74 L262.8,533.5 L263.07,533.23 L263.32,532.93 L263.55,532.61 L263.76,532.27 L263.96,531.94 L264.15,531.61 L264.33,531.29 L264.5,531 L264.66,530.71 L264.8,530.39 L264.93,530.08 L265.04,529.78 L265.16,529.51 L265.27,529.29 L265.38,529.15 L265.5,529.1 L265.62,529.09 L265.73,529.09 L265.84,529.13 L265.95,529.24 L266.07,529.45 L266.19,529.8 L266.34,530.3 L266.5,531 L266.69,531.94 L266.89,533.11 L267.12,534.46 L267.35,535.94 L267.59,537.48 L267.83,539.04 L268.07,540.57 L268.3,542 L268.53,543.38 L268.75,544.77 L268.98,546.17 L269.2,547.57 L269.43,548.95 L269.65,550.3 L269.88,551.62 L270.1,552.9 L270.32,554.14 L270.53,555.34 L270.73,556.52 L270.94,557.67 L271.15,558.79 L271.38,559.89 L271.63,560.96 L271.9,562 L272.2,563.01 L272.51,563.99 L272.84,564.94 L273.19,565.87 L273.55,566.77 L273.92,567.66 L274.3,568.53 L274.7,569.4 L275.14,570.29 L275.63,571.22 L276.15,572.15 L276.67,573.06 L277.18,573.91 L277.63,574.67 L278.02,575.31 L278.3,575.8" fill="none" stroke="#444" stroke-width="1.1" stroke-linejoin="round" stroke-linecap="round"/>
<path d="M274.44,569.54 L274.69,570.05 L275.02,570.75 L275.43,571.58 L275.88,572.49 L276.37,573.45 L276.89,574.39 L277.42,575.28 L277.94,576.07 L278.44,576.75 L278.94,577.39 L279.45,577.98 L279.99,578.56 L280.55,579.12 L281.15,579.67 L281.8,580.23 L282.5,580.82 L283.26,581.41 L284.05,582.01 L284.88,582.62 L285.77,583.24 L286.7,583.84 L287.7,584.44 L288.76,585.03 L289.89,585.58 L291.1,586.11 L292.38,586.62 L293.72,587.11 L295.12,587.58 L296.55,588.04 L298.01,588.49 L299.49,588.93 L300.98,589.37 L302.5,589.8 L304.07,590.22 L305.67,590.64 L307.29,591.04 L308.93,591.43 L310.57,591.81 L312.21,592.18 L313.83,592.53 L315.43,592.86 L317.02,593.18 L318.61,593.47 L320.2,593.76 L321.79,594.04 L323.4,594.31 L325.02,594.58 L326.67,594.84 L328.44,595.12 L330.36,595.4 L332.36,595.69 L334.33,595.96 L336.21,596.22 L337.9,596.45 L339.32,596.64 L340.38,596.79 L340.62,595.01 L339.56,594.87 L338.13,594.69 L336.44,594.47 L334.57,594.23 L332.59,593.96 L330.6,593.69 L328.69,593.42 L326.93,593.16 L325.29,592.9 L323.68,592.63 L322.08,592.36 L320.49,592.09 L318.91,591.8 L317.34,591.51 L315.76,591.2 L314.17,590.87 L312.57,590.53 L310.94,590.18 L309.31,589.81 L307.68,589.44 L306.07,589.05 L304.48,588.65 L302.93,588.24 L301.42,587.83 L299.94,587.41 L298.46,586.98 L297.01,586.55 L295.6,586.11 L294.23,585.65 L292.92,585.19 L291.67,584.71 L290.51,584.22 L289.43,583.71 L288.41,583.18 L287.44,582.63 L286.53,582.06 L285.67,581.49 L284.85,580.92 L284.06,580.35 L283.3,579.78 L282.58,579.26 L281.92,578.75 L281.32,578.26 L280.75,577.77 L280.21,577.26 L279.69,576.73 L279.18,576.15 L278.66,575.53 L278.14,574.81 L277.6,573.97 L277.06,573.07 L276.54,572.14 L276.06,571.25 L275.62,570.44 L275.25,569.76 L274.96,569.26Z" fill="#111" stroke="#111" stroke-width="0.5" stroke-linejoin="round"/>
<path d="M274.43,569.73 L274.68,570.31 L275,571.09 L275.4,572.02 L275.85,573.05 L276.34,574.12 L276.85,575.18 L277.37,576.18 L277.88,577.07 L278.38,577.85 L278.88,578.57 L279.39,579.26 L279.92,579.92 L280.48,580.57 L281.08,581.21 L281.73,581.86 L282.44,582.53 L283.2,583.2 L283.99,583.88 L284.82,584.57 L285.7,585.27 L286.64,585.95 L287.64,586.63 L288.7,587.28 L289.83,587.91 L291.05,588.51 L292.33,589.09 L293.67,589.64 L295.07,590.19 L296.5,590.71 L297.97,591.22 L299.45,591.72 L300.94,592.21 L302.47,592.69 L304.04,593.16 L305.64,593.61 L307.27,594.05 L308.91,594.48 L310.55,594.89 L312.18,595.29 L313.8,595.68 L315.4,596.04 L316.99,596.38 L318.58,596.7 L320.17,597.02 L321.77,597.32 L323.38,597.61 L325,597.9 L326.65,598.19 L328.42,598.49 L330.34,598.8 L332.34,599.12 L334.31,599.42 L336.19,599.71 L337.88,599.96 L339.3,600.17 L340.36,600.34 L340.64,598.46 L339.58,598.31 L338.15,598.1 L336.46,597.86 L334.59,597.59 L332.61,597.3 L330.62,597 L328.71,596.7 L326.95,596.41 L325.31,596.13 L323.7,595.84 L322.1,595.55 L320.51,595.25 L318.94,594.94 L317.36,594.62 L315.79,594.28 L314.2,593.92 L312.59,593.55 L310.97,593.17 L309.34,592.77 L307.71,592.36 L306.1,591.94 L304.51,591.5 L302.96,591.05 L301.46,590.59 L299.98,590.12 L298.51,589.64 L297.06,589.14 L295.64,588.64 L294.28,588.12 L292.97,587.59 L291.73,587.05 L290.57,586.49 L289.48,585.91 L288.47,585.31 L287.5,584.69 L286.6,584.06 L285.73,583.41 L284.91,582.76 L284.12,582.12 L283.36,581.47 L282.65,580.87 L281.99,580.28 L281.39,579.71 L280.82,579.13 L280.28,578.53 L279.75,577.91 L279.24,577.24 L278.72,576.53 L278.19,575.71 L277.64,574.76 L277.1,573.74 L276.57,572.7 L276.08,571.7 L275.64,570.8 L275.27,570.03 L274.97,569.47Z" fill="#111" stroke="#111" stroke-width="0.5" stroke-linejoin="round"/>
<text transform="translate(315.7,578.1) scale(1,1.1)" fill="#111">CD148</text>
<text transform="translate(316,588.6) scale(1,1.1)" fill="#111">TM-KO</text>
<text transform="translate(331,613.8) scale(1,1.1)" fill="#111">WT</text>
<path d="M256,670.2 L256.01,670.39 L256.01,670.67 L256.01,671 L256.02,671.36 L256.04,671.71 L256.07,672.04 L256.12,672.31 L256.2,672.5 L256.31,672.61 L256.43,672.68 L256.58,672.71 L256.74,672.71 L256.91,672.67 L257.1,672.6 L257.3,672.51 L257.5,672.4 L257.72,672.25 L257.95,672.06 L258.2,671.83 L258.46,671.58 L258.72,671.32 L258.98,671.06 L259.25,670.82 L259.5,670.6 L259.74,670.42 L259.96,670.28 L260.17,670.15 L260.38,670.03 L260.61,669.88 L260.87,669.71 L261.16,669.49 L261.5,669.2 L261.9,668.83 L262.34,668.38 L262.83,667.88 L263.34,667.36 L263.86,666.82 L264.39,666.3 L264.9,665.82 L265.4,665.4 L265.84,665.03 L266.22,664.69 L266.58,664.37 L266.94,664.07 L267.35,663.8 L267.84,663.55 L268.45,663.32 L269.2,663.1 L270.06,662.9 L270.97,662.7 L271.95,662.53 L273.04,662.38 L274.24,662.25 L275.59,662.16 L277.1,662.11 L278.8,662.1 L280.74,662.16 L282.92,662.27 L285.29,662.44 L287.79,662.63 L290.37,662.84 L292.97,663.05 L295.53,663.24 L298,663.4 L300.37,663.53 L302.68,663.66 L304.98,663.78 L307.29,663.89 L309.64,663.99 L312.07,664.1 L314.61,664.2 L317.3,664.3 L320.32,664.4 L323.74,664.51 L327.36,664.61 L331.01,664.71 L334.51,664.8 L337.67,664.88 L340.33,664.95 L342.3,665" fill="none" stroke="#555" stroke-width="1.05" stroke-linejoin="round" stroke-linecap="round"/>
<path d="M269.2,663.5 L269.88,663.47 L270.7,663.42 L271.68,663.36 L272.8,663.31 L274.07,663.26 L275.5,663.24 L277.07,663.25 L278.8,663.3 L280.74,663.41 L282.92,663.57 L285.29,663.76 L287.79,663.97 L290.37,664.2 L292.97,664.42 L295.53,664.62 L298,664.8 L300.37,664.95 L302.68,665.09 L304.98,665.22 L307.29,665.34 L309.64,665.46 L312.07,665.58 L314.61,665.69 L317.3,665.8 L320.32,665.92 L323.74,666.03 L327.36,666.15 L331.01,666.26 L334.51,666.37 L337.67,666.46 L340.33,666.54 L342.3,666.6" fill="none" stroke="#666" stroke-width="1" stroke-linejoin="round" stroke-linecap="round"/>
<text transform="translate(330.8,659.7) scale(1,1.1)" fill="#111">WT</text>
<text transform="translate(315.4,679.1) scale(1,1.1)" fill="#111">CD148</text>
<text transform="translate(315.6,689.7) scale(1,1.1)" fill="#111">TM-KO</text>
<line x1="257.2" y1="695.5" x2="272.6" y2="695.5" stroke="#111" stroke-width="1.5"/>
<text transform="translate(264.9,707.7) scale(1,1.1)" text-anchor="middle" fill="#111">1 min</text>
<text transform="translate(414.8,502.5) scale(1,1.1)" text-anchor="middle" fill="#111">0.3 U/mL</text>
<text transform="translate(415.2,513.4) scale(1,1.1)" text-anchor="middle" fill="#111">thrombin</text>
<path d="M411.7,518.5 L419.1,518.5 L415.4,525.3Z" fill="#111"/>
<path d="M413.2,534.6 L413.34,534.56 L413.54,534.5 L413.78,534.43 L414.04,534.35 L414.3,534.27 L414.56,534.18 L414.8,534.09 L415,534 L415.16,533.91 L415.31,533.81 L415.44,533.71 L415.56,533.6 L415.67,533.49 L415.78,533.39 L415.89,533.29 L416,533.2 L416.12,533.07 L416.23,532.89 L416.34,532.68 L416.46,532.49 L416.57,532.35 L416.68,532.3 L416.79,532.37 L416.9,532.6 L417.01,532.97 L417.1,533.46 L417.2,534.04 L417.29,534.73 L417.4,535.5 L417.51,536.35 L417.64,537.29 L417.8,538.3 L417.98,539.42 L418.16,540.68 L418.37,542.04 L418.58,543.47 L418.81,544.95 L419.06,546.43 L419.32,547.89 L419.6,549.3 L419.9,550.68 L420.23,552.07 L420.58,553.47 L420.94,554.86 L421.31,556.24 L421.68,557.6 L422.05,558.92 L422.4,560.2 L422.74,561.43 L423.06,562.62 L423.38,563.78 L423.69,564.91 L424.02,566.03 L424.36,567.15 L424.72,568.27 L425.1,569.4 L425.5,570.55 L425.91,571.72 L426.34,572.9 L426.78,574.07 L427.24,575.22 L427.73,576.35 L428.24,577.45 L428.8,578.5 L429.39,579.51 L430.01,580.49 L430.65,581.45 L431.33,582.38 L432.03,583.27 L432.76,584.14 L433.51,584.99 L434.3,585.8 L435.1,586.59 L435.91,587.34 L436.75,588.07 L437.61,588.77 L438.52,589.45 L439.48,590.09 L440.5,590.71 L441.6,591.3 L442.75,591.86 L443.94,592.38 L445.18,592.86 L446.48,593.32 L447.84,593.76 L449.3,594.19 L450.84,594.6 L452.5,595 L454.28,595.39 L456.19,595.75 L458.2,596.09 L460.29,596.41 L462.43,596.73 L464.62,597.05 L466.81,597.37 L469,597.7 L471.24,598.05 L473.58,598.41 L475.98,598.78 L478.39,599.14 L480.77,599.5 L483.08,599.83 L485.27,600.13 L487.3,600.4 L489.24,600.63 L491.17,600.83 L493.03,601.01 L494.79,601.17 L496.41,601.3 L497.85,601.42 L499.06,601.52 L500,601.6" fill="none" stroke="#333" stroke-width="1.2" stroke-linejoin="round" stroke-linecap="round"/>
<path d="M417.5,535 L417.6,535.35 L417.72,535.77 L417.86,536.27 L418.02,536.84 L418.2,537.5 L418.4,538.25 L418.6,539.08 L418.8,540 L419.01,541.05 L419.23,542.23 L419.46,543.51 L419.71,544.88 L419.96,546.28 L420.23,547.71 L420.51,549.13 L420.8,550.5 L421.11,551.86 L421.44,553.25 L421.79,554.66 L422.14,556.07 L422.51,557.48 L422.87,558.86 L423.24,560.2 L423.6,561.5 L423.95,562.75 L424.3,563.96 L424.64,565.13 L424.99,566.29 L425.34,567.42 L425.71,568.55 L426.09,569.67 L426.5,570.8 L426.92,571.93 L427.34,573.07 L427.78,574.2 L428.23,575.32 L428.7,576.42 L429.2,577.51 L429.73,578.57 L430.3,579.6 L430.91,580.6 L431.55,581.59 L432.22,582.56 L432.92,583.5 L433.65,584.42 L434.4,585.31 L435.19,586.17 L436,587 L436.83,587.8 L437.67,588.56 L438.53,589.3 L439.42,590.01 L440.35,590.7 L441.34,591.35 L442.38,591.99 L443.5,592.6 L444.67,593.18 L445.88,593.74 L447.13,594.26 L448.44,594.76 L449.82,595.24 L451.28,595.71 L452.84,596.16 L454.5,596.6 L456.3,597.02 L458.23,597.42 L460.26,597.8 L462.38,598.17 L464.53,598.53 L466.71,598.88 L468.88,599.24 L471,599.6 L473.14,599.98 L475.33,600.36 L477.56,600.76 L479.78,601.14 L481.97,601.52 L484.09,601.88 L486.11,602.21 L488,602.5 L489.82,602.76 L491.63,603.01 L493.39,603.23 L495.06,603.43 L496.6,603.61 L497.96,603.76 L499.11,603.89 L500,604" fill="none" stroke="#333" stroke-width="1.2" stroke-linejoin="round" stroke-linecap="round"/>
<text transform="translate(472.2,582.2) scale(1,1.1)" fill="#111">CD148</text>
<text transform="translate(472.4,593.2) scale(1,1.1)" fill="#111">TM-KO</text>
<text transform="translate(487.2,616.5) scale(1,1.1)" fill="#111">WT</text>
<path d="M414.2,672.6 L414.28,672.69 L414.39,672.84 L414.51,673.02 L414.66,673.2 L414.8,673.37 L414.95,673.51 L415.08,673.59 L415.2,673.6 L415.3,673.6 L415.41,673.63 L415.5,673.65 L415.59,673.61 L415.68,673.48 L415.76,673.19 L415.83,672.72 L415.9,672 L415.96,671 L416,669.73 L416.04,668.26 L416.07,666.65 L416.1,664.96 L416.13,663.24 L416.16,661.57 L416.2,660 L416.24,658.45 L416.29,656.84 L416.33,655.19 L416.38,653.56 L416.42,651.99 L416.48,650.51 L416.53,649.17 L416.6,648 L416.67,647.02 L416.74,646.2 L416.82,645.5 L416.9,644.91 L416.99,644.38 L417.08,643.91 L417.19,643.46 L417.3,643 L417.42,642.56 L417.55,642.18 L417.68,641.84 L417.82,641.54 L417.97,641.27 L418.13,641.01 L418.31,640.76 L418.5,640.5 L418.7,640.24 L418.9,640 L419.12,639.76 L419.34,639.54 L419.59,639.34 L419.86,639.14 L420.16,638.96 L420.5,638.8 L420.84,638.65 L421.17,638.5 L421.5,638.37 L421.88,638.26 L422.31,638.16 L422.82,638.08 L423.44,638.03 L424.2,638 L424.99,637.99 L425.73,637.99 L426.52,638.01 L427.42,638.05 L428.53,638.12 L429.9,638.23 L431.64,638.39 L433.8,638.6 L436.43,638.87 L439.47,639.2 L442.85,639.58 L446.51,639.99 L450.38,640.43 L454.42,640.89 L458.54,641.35 L462.7,641.8 L467.23,642.28 L472.35,642.82 L477.78,643.38 L483.26,643.95 L488.51,644.49 L493.26,644.98 L497.25,645.39 L500.2,645.7" fill="none" stroke="#555" stroke-width="1.05" stroke-linejoin="round" stroke-linecap="round"/>
<path d="M416.3,656 L416.37,655.68 L416.45,655.24 L416.55,654.72 L416.66,654.15 L416.79,653.56 L416.92,652.98 L417.06,652.45 L417.2,652 L417.35,651.62 L417.5,651.27 L417.67,650.95 L417.84,650.65 L418.02,650.37 L418.2,650.11 L418.4,649.85 L418.6,649.6 L418.8,649.36 L419,649.12 L419.2,648.9 L419.41,648.69 L419.63,648.5 L419.89,648.32 L420.17,648.15 L420.5,648 L420.84,647.86 L421.16,647.72 L421.5,647.6 L421.87,647.49 L422.3,647.41 L422.82,647.34 L423.44,647.3 L424.2,647.3 L424.99,647.32 L425.73,647.37 L426.52,647.43 L427.42,647.52 L428.53,647.65 L429.9,647.8 L431.64,647.98 L433.8,648.2 L436.44,648.46 L439.49,648.77 L442.89,649.12 L446.57,649.49 L450.46,649.89 L454.49,650.29 L458.59,650.7 L462.7,651.1 L467.15,651.52 L472.15,651.99 L477.43,652.49 L482.76,652.98 L487.85,653.45 L492.46,653.88 L496.33,654.23 L499.2,654.5" fill="none" stroke="#555" stroke-width="1.05" stroke-linejoin="round" stroke-linecap="round"/>
<text transform="translate(486.9,640.2) scale(1,1.1)" fill="#111">WT</text>
<text transform="translate(472.2,666) scale(1,1.1)" fill="#111">CD148</text>
<text transform="translate(472.4,676.4) scale(1,1.1)" fill="#111">TM-KO</text>
<line x1="415.7" y1="695.5" x2="432.7" y2="695.5" stroke="#111" stroke-width="1.5"/>
<text transform="translate(424.2,707.7) scale(1,1.1)" text-anchor="middle" fill="#111">1 min</text>
<text transform="translate(85.8,730.7) scale(1,1.1)" text-anchor="middle" fill="#111">1 μM</text>
<text transform="translate(85.5,741) scale(1,1.1)" text-anchor="middle" fill="#111">U46619</text>
<path d="M82.1,746.9 L89.5,746.9 L85.8,753.7Z" fill="#111"/>
<path d="M63.3,771.5 L68.5,771.5 L68.5,846 L63.3,846" fill="none" stroke="#111" stroke-width="1.3"/>
<text transform="translate(61.2,775.2) scale(1,1.1)" text-anchor="end" fill="#111">0</text>
<text transform="translate(60,850.7) scale(1,1.1)" text-anchor="end" fill="#111">70</text>
<text transform="translate(48,808.5) rotate(-90) scale(1,0.82)" text-anchor="middle" fill="#111" font-size="9">% aggregation</text>
<path d="M80.2,771.6 L87.1,771.6" fill="none" stroke="#111" stroke-width="2.2" stroke-linejoin="round" stroke-linecap="round"/>
<path d="M87.1,771.6 L87.16,771.24 L87.23,770.75 L87.32,770.16 L87.42,769.52 L87.52,768.85 L87.62,768.18 L87.72,767.55 L87.8,767 L87.87,766.52 L87.92,766.09 L87.98,765.68 L88.02,765.29 L88.08,764.89 L88.14,764.47 L88.21,764.01 L88.3,763.5 L88.4,762.91 L88.5,762.25 L88.62,761.55 L88.74,760.83 L88.87,760.11 L89.03,759.44 L89.2,758.82 L89.4,758.3 L89.6,757.87 L89.79,757.5 L89.99,757.18 L90.22,756.9 L90.48,756.65 L90.81,756.43 L91.21,756.22 L91.7,756 L92.27,755.8 L92.89,755.62 L93.58,755.47 L94.33,755.32 L95.15,755.19 L96.05,755.07 L97.03,754.94 L98.1,754.8 L99.2,754.65 L100.29,754.5 L101.43,754.35 L102.66,754.2 L104.05,754.06 L105.63,753.92 L107.46,753.8 L109.6,753.7 L112.04,753.61 L114.74,753.54 L117.66,753.48 L120.8,753.43 L124.12,753.39 L127.61,753.36 L131.25,753.33 L135,753.3 L139.2,753.28 L144,753.27 L149.13,753.27 L154.34,753.27 L159.34,753.28 L163.88,753.29 L167.69,753.3 L170.5,753.3" fill="none" stroke="#111" stroke-width="1.4" stroke-linejoin="round" stroke-linecap="round"/>
<text transform="translate(142.4,737.2) scale(1,1.1)" fill="#111">CD148</text>
<text transform="translate(142.4,748.3) scale(1,1.1)" fill="#111">TM-KO</text>
<text transform="translate(157.6,766.1) scale(1,1.1)" fill="#111">WT</text>
<path d="M63.6,871.2 L68.1,871.2 L68.1,912.4 L63.6,912.4" fill="none" stroke="#111" stroke-width="1.3"/>
<text transform="translate(61.4,874.4) scale(1,1.1)" text-anchor="end" fill="#111">2</text>
<text transform="translate(61.4,915.5) scale(1,1.1)" text-anchor="end" fill="#111">0</text>
<text transform="translate(50,890.5) rotate(-90) scale(1,1.0)" text-anchor="middle" fill="#111" font-size="9">ATP (nmol)</text>
<path d="M79.3,909.8 L79.9,913.2" fill="none" stroke="#444" stroke-width="0.9" stroke-linejoin="round" stroke-linecap="round"/>
<path d="M78.3,911.6 L169.2,911.6" fill="none" stroke="#666" stroke-width="1.05" stroke-linejoin="round" stroke-linecap="round"/>
<text transform="translate(157.8,906.6) scale(1,1.1)" fill="#111">WT</text>
<text transform="translate(142.4,923.9) scale(1,1.1)" fill="#111">CD148</text>
<text transform="translate(142.4,934.2) scale(1,1.1)" fill="#111">TM-KO</text>
<line x1="80.5" y1="937.2" x2="99.4" y2="937.2" stroke="#111" stroke-width="1.5"/>
<text transform="translate(89.95,950.8) scale(1,1.1)" text-anchor="middle" fill="#111">1 min</text>
<text transform="translate(267,730.7) scale(1,1.1)" text-anchor="middle" fill="#111">3 μM</text>
<text transform="translate(266.5,741) scale(1,1.1)" text-anchor="middle" fill="#111">U46619</text>
<path d="M264.3,747 L271.7,747 L268,754.7Z" fill="#111"/>
<path d="M261.1,771.3 L264,771 L267.1,770.3" fill="none" stroke="#111" stroke-width="2" stroke-linejoin="round" stroke-linecap="round"/>
<path d="M267.1,770.3 L268.1,767 L268.3,762.2 L269.5,760.2 L270.8,759.8 L272,761.5" fill="none" stroke="#333" stroke-width="1.3" stroke-linejoin="round" stroke-linecap="round"/>
<path d="M272,761.5 L272.07,761.62 L272.15,761.78 L272.24,761.97 L272.35,762.19 L272.49,762.42 L272.68,762.67 L272.91,762.93 L273.2,763.2 L273.57,763.49 L274,763.83 L274.49,764.18 L275.02,764.55 L275.57,764.91 L276.13,765.25 L276.68,765.55 L277.2,765.8 L277.68,766.02 L278.13,766.23 L278.56,766.43 L279,766.59 L279.47,766.72 L280,766.78 L280.6,766.78 L281.3,766.7 L282.09,766.52 L282.93,766.26 L283.83,765.92 L284.8,765.53 L285.83,765.11 L286.92,764.66 L288.08,764.22 L289.3,763.8 L290.6,763.37 L291.99,762.91 L293.44,762.43 L294.96,761.94 L296.53,761.46 L298.13,761 L299.76,760.58 L301.4,760.2 L303.03,759.86 L304.66,759.53 L306.31,759.23 L307.99,758.95 L309.74,758.7 L311.58,758.49 L313.52,758.32 L315.6,758.2 L317.87,758.13 L320.32,758.11 L322.92,758.14 L325.58,758.2 L328.26,758.29 L330.9,758.39 L333.43,758.5 L335.8,758.6 L338.12,758.72 L340.49,758.87 L342.85,759.04 L345.11,759.23 L347.22,759.4 L349.1,759.57 L350.69,759.7 L351.9,759.8" fill="none" stroke="#333" stroke-width="1.1" stroke-linejoin="round" stroke-linecap="round"/>
<path d="M271.5,761 L271.55,761.3 L271.6,761.69 L271.65,762.14 L271.73,762.66 L271.81,763.23 L271.92,763.85 L272.05,764.51 L272.2,765.2 L272.38,765.98 L272.59,766.87 L272.81,767.83 L273.06,768.83 L273.32,769.81 L273.6,770.75 L273.89,771.59 L274.2,772.3 L274.51,772.88 L274.81,773.39 L275.12,773.81 L275.44,774.18 L275.8,774.5 L276.21,774.79 L276.67,775.05 L277.2,775.3 L277.8,775.54 L278.46,775.77 L279.18,775.97 L279.94,776.14 L280.74,776.26 L281.57,776.34 L282.43,776.35 L283.3,776.3 L284.19,776.18 L285.12,776.01 L286.07,775.79 L287.05,775.51 L288.06,775.18 L289.11,774.8 L290.19,774.38 L291.3,773.9 L292.46,773.35 L293.68,772.7 L294.93,771.99 L296.22,771.23 L297.52,770.46 L298.83,769.7 L300.12,768.97 L301.4,768.3 L302.63,767.68 L303.83,767.08 L305.01,766.49 L306.19,765.92 L307.41,765.37 L308.69,764.84 L310.04,764.31 L311.5,763.8 L313.08,763.29 L314.76,762.78 L316.53,762.27 L318.35,761.78 L320.2,761.32 L322.06,760.9 L323.9,760.52 L325.7,760.2 L327.48,759.94 L329.28,759.73 L331.08,759.56 L332.88,759.44 L334.66,759.34 L336.42,759.28 L338.13,759.23 L339.8,759.2 L341.49,759.2 L343.25,759.25 L345.02,759.33 L346.73,759.44 L348.34,759.55 L349.77,759.65 L350.98,759.74 L351.9,759.8" fill="none" stroke="#333" stroke-width="1.1" stroke-linejoin="round" stroke-linecap="round"/>
<text transform="translate(324.3,743) scale(1,1.1)" fill="#111">CD148</text>
<text transform="translate(324.3,754) scale(1,1.1)" fill="#111">TM-KO</text>
<text transform="translate(339.7,773.1) scale(1,1.1)" fill="#111">WT</text>
<path d="M260.6,909.6 L261.1,913.4" fill="none" stroke="#444" stroke-width="0.9" stroke-linejoin="round" stroke-linecap="round"/>
<path d="M259.6,911.6 L353.1,911.6" fill="none" stroke="#777" stroke-width="1" stroke-linejoin="round" stroke-linecap="round"/>
<text transform="translate(339.7,906.6) scale(1,1.1)" fill="#111">WT</text>
<text transform="translate(324.5,924.4) scale(1,1.1)" fill="#111">CD148</text>
<text transform="translate(324.5,935.5) scale(1,1.1)" fill="#111">TM-KO</text>
<line x1="262.3" y1="937.2" x2="280.8" y2="937.2" stroke="#111" stroke-width="1.5"/>
<text transform="translate(271.55,950.8) scale(1,1.1)" text-anchor="middle" fill="#111">1 min</text>
<text transform="translate(427.8,730.2) scale(1,1.1)" text-anchor="middle" fill="#111">10 μM</text>
<text transform="translate(427.5,741) scale(1,1.1)" text-anchor="middle" fill="#111">U46619</text>
<path d="M424.1,747 L431.5,747 L427.8,754.7Z" fill="#111"/>
<path d="M422.1,767.2 L425,766.8 L427.1,766.2 L427.6,763.1 L429,761" fill="none" stroke="#111" stroke-width="1.8" stroke-linejoin="round" stroke-linecap="round"/>
<path d="M429,761 L429.14,760.73 L429.33,760.32 L429.56,759.82 L429.81,759.3 L430.08,758.81 L430.34,758.41 L430.58,758.15 L430.8,758.1 L430.99,758.21 L431.16,758.43 L431.33,758.74 L431.49,759.16 L431.65,759.7 L431.82,760.37 L432,761.17 L432.2,762.1 L432.42,763.22 L432.66,764.56 L432.91,766.04 L433.16,767.64 L433.42,769.31 L433.69,770.99 L433.95,772.63 L434.2,774.2 L434.45,775.75 L434.7,777.34 L434.95,778.96 L435.2,780.56 L435.45,782.13 L435.7,783.63 L435.95,785.03 L436.2,786.3 L436.44,787.43 L436.67,788.45 L436.9,789.37 L437.13,790.22 L437.37,791.03 L437.62,791.81 L437.9,792.59 L438.2,793.4 L438.52,794.22 L438.83,795.02 L439.15,795.81 L439.5,796.58 L439.88,797.34 L440.3,798.08 L440.77,798.8 L441.3,799.5 L441.92,800.18 L442.62,800.85 L443.38,801.5 L444.18,802.12 L444.99,802.74 L445.8,803.34 L446.57,803.93 L447.3,804.5 L447.99,805.04 L448.66,805.54 L449.33,806.02 L449.97,806.49 L450.61,806.96 L451.22,807.46 L451.82,808 L452.4,808.6 L452.95,809.27 L453.48,809.99 L453.98,810.75 L454.47,811.54 L454.95,812.33 L455.43,813.12 L455.91,813.88 L456.4,814.6 L456.89,815.29 L457.36,815.98 L457.83,816.66 L458.3,817.32 L458.78,817.96 L459.29,818.57 L459.82,819.15 L460.4,819.7 L461.06,820.22 L461.82,820.73 L462.63,821.21 L463.45,821.67 L464.24,822.08 L464.96,822.45 L465.56,822.76 L466,823" fill="none" stroke="#111" stroke-width="1.5" stroke-linejoin="round" stroke-linecap="round"/>
<path d="M430.8,758.1 L430.94,758.51 L431.12,758.99 L431.33,759.57 L431.57,760.24 L431.83,761.01 L432.09,761.89 L432.35,762.88 L432.6,764 L432.84,765.29 L433.08,766.75 L433.33,768.35 L433.57,770.06 L433.83,771.81 L434.08,773.58 L434.34,775.33 L434.6,777 L434.86,778.61 L435.11,780.21 L435.36,781.81 L435.61,783.41 L435.88,785.02 L436.16,786.64 L436.47,788.3 L436.8,790 L437.17,791.77 L437.57,793.62 L438,795.52 L438.44,797.43 L438.89,799.32 L439.34,801.15 L439.78,802.89 L440.2,804.5 L440.6,806.01 L441,807.45 L441.39,808.83 L441.77,810.14 L442.16,811.37 L442.54,812.53 L442.92,813.61 L443.3,814.6 L443.67,815.49 L444.01,816.28 L444.34,816.97 L444.68,817.59 L445.03,818.16 L445.41,818.69 L445.83,819.2 L446.3,819.7 L446.81,820.18 L447.34,820.62 L447.89,821.02 L448.48,821.39 L449.11,821.74 L449.79,822.07 L450.51,822.39 L451.3,822.7 L452.22,823.01 L453.3,823.32 L454.47,823.61 L455.66,823.89 L456.82,824.14 L457.87,824.36 L458.75,824.55 L459.4,824.7" fill="none" stroke="#111" stroke-width="1.3" stroke-linejoin="round" stroke-linecap="round"/>
<path d="M443,814.5 L443.32,814.92 L443.77,815.53 L444.31,816.23 L444.9,816.92 L445.5,817.5 L446.13,817.98 L446.8,818.42 L447.52,818.82 L448.25,819.18 L449,819.5 L449.75,819.77 L450.52,819.99 L451.3,820.08 L452.13,820.29 L453,820.28 L453.9,818.24 L454.83,818.47 L455.81,819.14 L456.86,820.52 L458,819.24 L459.22,820.86 L460.51,821.44 L461.89,821.94 L463.38,822.1 L465,820.81 L466.79,822.47 L468.74,820.83 L470.78,823.55 L472.89,824.16 L475,823.51 L477.09,824.74 L479.18,825.04 L481.34,825.59 L483.59,825.73 L486,825.08 L488.67,826.31 L491.58,826.98 L494.54,827.38 L497.41,827.28 L500,826.66 L502.26,826.74 L504.29,828.11 L506.19,828.46 L508.06,828.48 L510,828.73 L512.16,828.59 L514.48,828.9 L516.72,827.89 L518.64,828.93 L520,829.43 L520,838.99 L519.23,838.99 L518.2,838.81 L516.98,838.8 L515.62,838.99 L514.19,838.75 L512.73,838.7 L511.32,838.47 L510,838.36 L508.78,838.74 L507.59,838.12 L506.43,838.24 L505.25,838.07 L504.04,838.26 L502.78,838.15 L501.44,837.88 L500,837.81 L498.46,836.86 L496.83,837.21 L495.13,836.95 L493.38,836.64 L491.57,836.58 L489.73,836.62 L487.87,836.08 L486,835.73 L484.04,835.63 L481.95,835.12 L479.79,835.23 L477.62,835.41 L475.5,835.21 L473.48,834.89 L471.63,834.8 L470,834.66 L468.61,834.56 L467.4,835.22 L466.35,835.1 L465.41,834.58 L464.55,834.58 L463.71,834.4 L462.88,834.86 L462,834.74 L461.1,834.7 L460.21,834.31 L459.35,834.12 L458.51,833.68 L457.69,834.27 L456.9,833.7 L456.13,833.41 L455.4,833.12 L454.7,833.49 L454.03,832.64 L453.4,832.46 L452.79,832.26 L452.2,832.25 L451.62,831.55 L451.06,831.79 L450.5,831.15 L449.95,830.38 L449.41,829.92 L448.89,829.44 L448.38,828.92 L447.89,828.37 L447.41,827.78 L446.95,827.16 L446.5,826.5 L446.07,825.8 L445.66,825.04 L445.26,824.25 L444.88,823.42 L444.51,822.57 L444.16,821.71 L443.82,820.85 L443.5,820 L443.19,819.1 L442.88,818.12 L442.59,817.1 L442.31,816.09 L442.06,815.13 L441.84,814.27 L441.65,813.54 L441.5,813Z" fill="#111" stroke="#111" stroke-width="0.5" stroke-linejoin="round"/>
<path d="M462.41,827.06 l1.39,0.16 M465.88,827.7 l2.05,-0.17 M481.3,829.51 l1.63,-0.28 M485.08,829.8 l1.25,0.12 M489.95,831.46 l2.3,0.27 M491.38,830.48 l1.15,-0.18 M492.84,831.66 l1.8,0.2 M494.93,831.75 l1.84,-0.25 M506.73,833.09 l1.09,-0.1 M513.49,834.1 l1.44,0.13 M514.76,833.05 l1,0.24 " fill="none" stroke="#fff" stroke-width="0.55" opacity="0.8"/>
<text transform="translate(489.7,809.5) scale(1,1.1)" fill="#111">CD148</text>
<text transform="translate(489.9,820.3) scale(1,1.1)" fill="#111">TM-KO</text>
<text transform="translate(504.9,851.2) scale(1,1.1)" fill="#111">WT</text>
<path d="M422.1,911 L422.1,914.1" fill="none" stroke="#333" stroke-width="1" stroke-linejoin="round" stroke-linecap="round"/>
<path d="M422.1,912.5 L439.2,912.5 L441.5,910.5 L443.9,908.2 L451.3,908.1 L452.4,908.9 L475.6,909.5 L516,911.1" fill="none" stroke="#333" stroke-width="1.1" stroke-linejoin="round" stroke-linecap="round"/>
<path d="M439.2,912.5 L445,912 L452.4,911.5 L454.5,909.6" fill="none" stroke="#333" stroke-width="1" stroke-linejoin="round" stroke-linecap="round"/>
<text transform="translate(441,902.1) scale(1,1.1)" fill="#111">WT</text>
<text transform="translate(450.5,923.3) scale(1,1.1)" fill="#111">CD148</text>
<text transform="translate(450.7,933.4) scale(1,1.1)" fill="#111">TM-KO</text>
<line x1="424" y1="937.2" x2="442.6" y2="937.2" stroke="#111" stroke-width="1.5"/>
<text transform="translate(433.3,950.8) scale(1,1.1)" text-anchor="middle" fill="#111">1 min</text>
</svg>
</body></html>
